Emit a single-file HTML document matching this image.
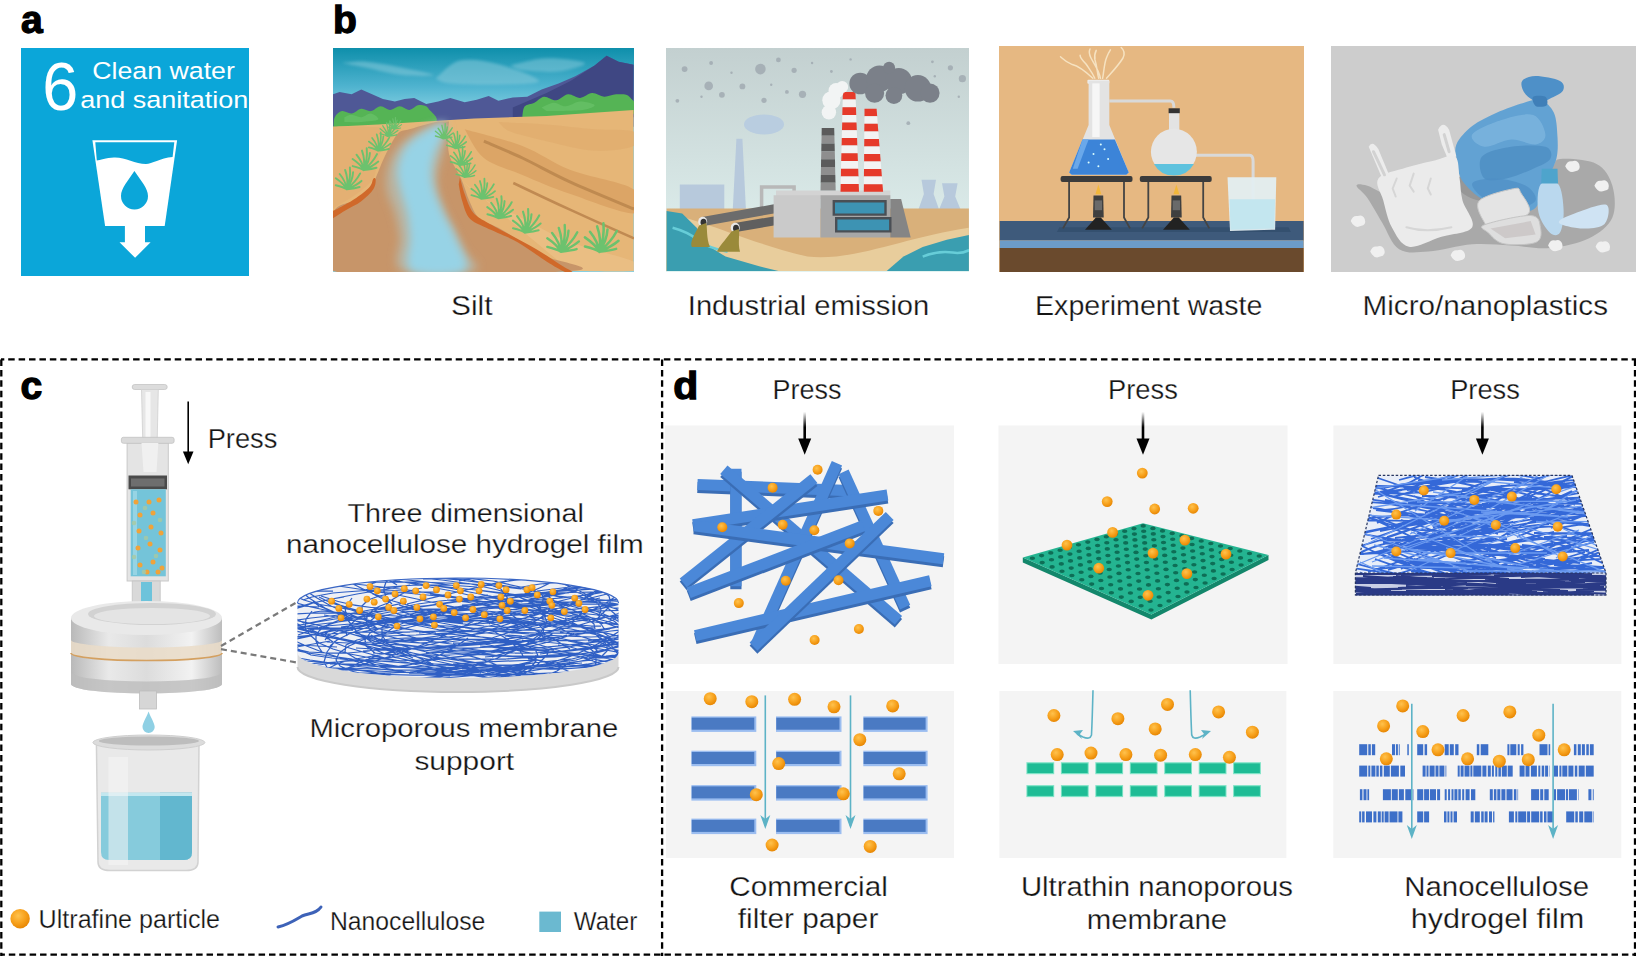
<!DOCTYPE html>
<html><head><meta charset="utf-8">
<style>
html,body{margin:0;padding:0;background:#fff;width:1636px;height:956px;overflow:hidden}
svg{display:block}
text{font-family:"Liberation Sans",sans-serif;fill:#141414}
.lb{font-weight:bold;font-size:39px;fill:#000;stroke:#000;stroke-width:1.3}
.t{font-size:27px}
</style></head><body>
<svg width="1636" height="956" viewBox="0 0 1636 956">
<defs>
<radialGradient id="dot" cx="0.4" cy="0.35" r="0.7">
<stop offset="0" stop-color="#ffc24d"/><stop offset="0.55" stop-color="#f7a11c"/><stop offset="1" stop-color="#e58300"/>
</radialGradient>
<linearGradient id="arr" x1="0" y1="0" x2="0" y2="1">
<stop offset="0" stop-color="#000" stop-opacity="0"/><stop offset="0.55" stop-color="#000"/><stop offset="1" stop-color="#000"/>
</linearGradient>
<marker id="tealhead" viewBox="0 0 10 10" refX="5" refY="5" markerWidth="7" markerHeight="7" orient="auto-start-reverse" markerUnits="userSpaceOnUse">
<path d="M0 0 L10 5 L0 10 L3 5 Z" fill="#5db3c6"/>
</marker>

<clipPath id="diskclip"><path d="M297.5 603 A160.5 25 0 0 1 618.5 603 V653 A160.5 25 0 0 1 297.5 653 Z"/></clipPath>
<clipPath id="slabclip"><path d="M1378.5 475.4 L1572 475.4 L1606 573 L1606 595 L1355.4 595 L1355.4 573 Z"/></clipPath>
<clipPath id="topslab"><path d="M1378.5 475.4 L1572 475.4 L1606 573 L1355.4 573 Z"/></clipPath>
<clipPath id="frontslab"><rect x="1355.4" y="573" width="250.7" height="22.5"/></clipPath>
<linearGradient id="holder" x1="0" y1="0" x2="1" y2="0">
<stop offset="0" stop-color="#b9b9b9"/><stop offset="0.25" stop-color="#e9e9e9"/><stop offset="0.5" stop-color="#dcdcdc"/><stop offset="0.8" stop-color="#f2f2f2"/><stop offset="1" stop-color="#bdbdbd"/>
</linearGradient>
<linearGradient id="skysilt" gradientUnits="userSpaceOnUse" x1="0" y1="48" x2="0" y2="112">
<stop offset="0" stop-color="#0e8fab"/><stop offset="0.6" stop-color="#4fb3cf"/><stop offset="1" stop-color="#86d0e2"/>
</linearGradient>
<linearGradient id="skyind" x1="0" y1="0" x2="0" y2="1">
<stop offset="0" stop-color="#c3d0d0"/><stop offset="1" stop-color="#e2f3f1"/>
</linearGradient>
</defs>

<text class="lb" x="21" y="33.4">a</text>
<text class="lb" x="333" y="32.6">b</text>
<text class="lb" x="20.6" y="398.5">c</text>
<text class="lb" x="673.2" y="398.6" textLength="25" lengthAdjust="spacingAndGlyphs">d</text>
<g id="pa">
<rect x="21" y="48" width="228" height="228" fill="#0ba6d9"/>
<text x="42.3" y="110" style="font-size:69px;fill:#fff;stroke:#0ba6d9;stroke-width:1.6;paint-order:stroke" textLength="36" lengthAdjust="spacingAndGlyphs">6</text>
<text x="92.3" y="78.5" style="font-size:24.5px;fill:#fff" textLength="142.5" lengthAdjust="spacingAndGlyphs">Clean water</text>
<text x="80.2" y="108.3" style="font-size:24.5px;fill:#fff" textLength="168" lengthAdjust="spacingAndGlyphs">and sanitation</text>
<path d="M92.4 140.2 H177.1 L164.7 226 H105.1 Z" fill="#fff"/>
<path d="M95.3 142.2 H174.3 L172.6 157 C160 158 152 164 146 164 C135 164 125 157 114 157.5 C106 158 100 160 96.8 160.5 Z" fill="#0ba6d9"/>
<path d="M134.4 171 C128 181 121 188 121 196 A13.5 13.5 0 0 0 148 196 C148 188 141 181 134.4 171 Z" fill="#0ba6d9"/>
<path d="M124.9 225 H145 V242.3 H150.6 L135.1 257.8 L119.5 242.3 H124.9 Z" fill="#fff"/>
</g>
<g id="silt"><svg x="333" y="48" width="301" height="224" viewBox="333 48 301 224" overflow="hidden">
<defs><filter id="sblur" x="-20%" y="-20%" width="140%" height="140%"><feGaussianBlur stdDeviation="4.5"/></filter>
<filter id="sblur2" x="-20%" y="-20%" width="140%" height="140%"><feGaussianBlur stdDeviation="1.5"/></filter></defs>
<rect x="333" y="48" width="301" height="224" fill="url(#skysilt)"/>
<path d="M342.0 63.0 C346.0 62.8 356.1 61.0 366.1 61.8 C376.1 62.6 390.9 65.6 402.2 67.8 C413.4 70.1 433.4 73.9 433.4 75.1 C433.4 76.3 413.4 76.3 402.2 75.1 C390.9 73.9 376.1 69.9 366.1 67.8 C356.1 65.8 346.0 63.8 342.0 63.0 Z" fill="#86c9da" opacity="0.55" filter="url(#sblur2)"/>
<path d="M435.8 78.7 C439.8 75.7 449.4 63.0 459.9 60.6 C470.3 58.2 485.1 60.8 498.4 64.2 C511.6 67.6 539.2 77.7 539.2 81.1 C539.2 84.5 513.2 84.3 498.4 84.7 C483.5 85.1 460.7 84.5 450.3 83.5 C439.8 82.5 438.2 79.5 435.8 78.7 Z" fill="#86c9da" opacity="0.55" filter="url(#sblur2)"/>
<path d="M510.4 65.4 C516.4 64.2 534.0 58.6 546.5 58.2 C558.9 57.8 582.9 60.8 584.9 63.0 C586.9 65.2 568.9 70.3 558.5 71.5 C548.1 72.7 530.4 71.3 522.4 70.3 C514.4 69.3 512.4 66.2 510.4 65.4 Z" fill="#86c9da" opacity="0.5" filter="url(#sblur2)"/>
<polygon points="332.9,94.3 339.6,91.9 351.6,94.3 361.3,89.5 372.1,94.3 382.9,99.1 394.9,101.5 404.6,99.1 414.2,97.9 426.2,103.9 438.2,101.5 450.3,97.9 464.7,102.2 476.7,99.8 488.7,96.0 498.4,100.8 512.8,97.4 527.2,96.7 541.6,89.5 558.5,83.5 575.3,76.3 594.6,65.4 606.6,55.8 618.6,61.8 633.5,64.7 633.5,126.8 332.9,126.8" fill="#4f5896"/>
<polygon points="512.8,107.5 546.5,93.1 570.5,81.1 594.6,65.4 606.6,55.8 618.6,61.8 633.5,64.7 633.5,117.2 512.8,117.2" fill="#3f4783"/>
<path d="M333.6 126.8 C333.8 125.2 333.4 119.8 334.8 117.2 C336.2 114.5 339.2 111.7 342.0 111.1 C344.8 110.5 348.4 113.9 351.6 113.5 C354.9 113.1 358.1 109.1 361.3 108.7 C364.5 108.3 367.7 111.5 370.9 111.1 C374.1 110.7 377.3 106.5 380.5 106.3 C383.7 106.1 386.9 109.9 390.1 109.9 C393.3 109.9 396.5 106.3 399.7 106.3 C403.0 106.3 406.2 110.1 409.4 109.9 C412.6 109.7 415.8 105.3 419.0 105.1 C422.2 104.9 426.8 105.5 428.6 108.7 C430.4 111.9 445.6 121.2 429.8 124.4 C414.0 127.6 349.6 127.4 333.6 128.0 Z" fill="#55b455"/>
<path d="M522.4 115.9 C522.8 114.3 522.8 108.5 524.8 106.3 C526.8 104.1 531.2 104.3 534.4 102.7 C537.6 101.1 540.4 97.1 544.0 96.7 C547.7 96.3 552.1 100.7 556.1 100.3 C560.1 99.9 564.1 94.7 568.1 94.3 C572.1 93.9 576.1 98.1 580.1 97.9 C584.1 97.7 588.1 93.3 592.1 93.1 C596.2 92.9 600.2 96.5 604.2 96.7 C608.2 96.9 612.0 94.3 616.2 94.3 C620.4 94.3 627.0 93.3 629.4 96.7 C631.8 100.1 648.5 111.3 630.6 114.7 C612.8 118.2 540.4 116.7 522.4 117.2 Z" fill="#55b455"/>
<path d="M344.4 117.2 C345.6 116.7 348.8 114.7 351.6 114.7 C354.5 114.7 358.1 117.4 361.3 117.2 C364.5 116.9 368.1 113.1 370.9 113.5 C373.7 113.9 379.7 118.2 378.1 119.6 C376.5 121.0 366.9 121.6 361.3 122.0 C355.7 122.4 347.2 122.0 344.4 122.0 Z M541.6 107.5 C543.6 106.7 549.7 102.9 553.7 102.7 C557.7 102.5 561.3 106.5 565.7 106.3 C570.1 106.1 575.3 101.7 580.1 101.5 C584.9 101.3 594.1 103.7 594.6 105.1 C595.0 106.5 590.5 108.9 582.5 109.9 C574.5 110.9 552.5 110.9 546.5 111.1 Z" fill="#66c066" opacity="0.8"/>
<polygon points="332.9,126.8 378.1,124.4 438.2,120.8 474.3,118.4 546.5,115.9 633.5,109.9 633.5,271.1 332.9,271.1" fill="#e6b677"/>
<path d="M464.7 129.2 C474.3 132.0 504.8 139.2 522.4 146.0 C540.0 152.8 552.0 162.8 570.5 170.1 C589.0 177.3 623.0 182.1 633.5 189.3 C644.0 196.5 644.0 212.5 633.5 213.4 C623.0 214.2 589.0 200.5 570.5 194.1 C552.0 187.7 536.8 180.9 522.4 174.9 C508.0 168.9 493.5 165.7 483.9 158.0 C474.3 150.4 467.9 134.0 464.7 129.2 Z" fill="#dca566"/>
<path d="M498.4 122.0 C506.4 122.4 530.4 123.2 546.5 124.4 C562.5 125.6 580.0 128.0 594.6 129.2 C609.1 130.4 627.0 128.8 633.5 131.6 C640.0 134.4 640.0 142.8 633.5 146.0 C627.0 149.2 609.1 151.6 594.6 150.8 C580.0 150.0 560.5 144.4 546.5 141.2 C532.4 138.0 518.4 134.8 510.4 131.6 C502.4 128.4 500.4 123.6 498.4 122.0 Z" fill="#dfac6d" opacity="0.7"/>
<path d="M483.9 141.2 C490.3 144.0 508.0 151.2 522.4 158.0 C536.8 164.8 551.9 173.6 570.5 182.1 C589.1 190.6 623.4 204.5 634.0 209.0" stroke="#bf8a50" stroke-width="3" fill="none"/>
<path d="M513.3 183.0 C523.1 187.7 552.1 201.5 572.2 210.7 C592.3 219.9 623.7 233.8 634.0 238.4" stroke="#c08a52" stroke-width="2.5" fill="none"/>
<path d="M461.1 179.7 C464.9 182.9 473.7 192.5 483.9 198.9 C494.1 205.3 508.0 210.9 522.4 218.2 C536.8 225.4 552.0 235.0 570.5 242.2 C589.0 249.4 623.0 256.6 633.5 261.5 C644.0 266.3 644.0 269.5 633.5 271.1 C623.0 272.7 581.0 271.1 570.5 271.1 Z" fill="#ecc38c" opacity="0.6"/>
<path d="M438.2 121.5 C436.2 122.0 431.0 123.1 426.2 124.4 C421.4 125.6 414.0 127.8 409.4 129.2 C404.8 130.6 401.7 130.0 398.5 132.8 C395.3 135.6 392.7 141.4 390.1 146.0 C387.5 150.6 385.1 155.6 382.9 160.4 C380.7 165.3 378.5 171.3 376.9 174.9 C375.3 178.5 376.3 178.1 373.3 182.1 C370.3 186.1 365.6 193.7 358.9 198.9 C352.1 204.1 337.2 201.3 332.9 213.4 C328.6 225.4 293.3 261.5 332.9 271.1 C372.5 280.7 534.9 273.5 570.5 271.1 C606.1 268.7 554.5 261.5 546.5 256.6 C538.4 251.8 530.4 247.0 522.4 242.2 C514.4 237.4 505.6 231.8 498.4 227.8 C491.1 223.8 483.9 222.6 479.1 218.2 C474.3 213.8 472.5 207.9 469.5 201.3 C466.5 194.7 464.3 185.7 461.1 178.5 C457.9 171.3 452.5 164.2 450.3 158.0 C448.0 151.8 448.0 147.3 447.8 141.2 C447.6 135.1 448.8 124.8 449.0 121.5 Z" fill="#c79569"/>
<path d="M439.4 124.4 C436.8 125.2 429.6 126.4 423.8 129.2 C418.0 132.0 409.8 136.8 404.6 141.2 C399.3 145.6 395.5 150.0 392.5 155.6 C389.5 161.2 387.3 168.5 386.5 174.9 C385.7 181.3 386.3 187.7 387.7 194.1 C389.1 200.5 392.9 206.1 394.9 213.4 C396.9 220.6 398.5 227.8 399.7 237.4 C400.9 247.0 389.7 265.5 402.2 271.1 C414.6 276.7 463.9 274.3 474.3 271.1 C484.7 267.9 467.9 258.2 464.7 251.8 C461.5 245.4 458.3 239.0 455.1 232.6 C451.9 226.2 448.2 219.8 445.4 213.4 C442.6 206.9 439.6 200.5 438.2 194.1 C436.8 187.7 436.4 181.3 437.0 174.9 C437.6 168.5 440.4 161.6 441.8 155.6 C443.2 149.6 444.6 144.0 445.4 138.8 C446.2 133.6 446.4 126.8 446.6 124.4 Z" fill="#b9b3a0" filter="url(#sblur)"/>
<path d="M441.1 122.4 C439.4 123.4 435.5 125.2 431.0 128.0 C426.5 130.7 418.8 135.0 414.2 138.8 C409.6 142.6 406.2 145.6 403.4 150.8 C400.5 156.0 397.9 163.6 397.3 170.1 C396.8 176.5 398.6 182.1 400.2 189.3 C401.8 196.5 405.4 205.3 407.0 213.4 C408.6 221.4 409.1 227.8 409.8 237.4 C410.6 247.0 402.2 265.5 411.3 271.1 C420.4 276.7 457.3 276.7 464.7 271.1 C472.1 265.5 459.1 247.0 455.5 237.4 C452.0 227.8 447.1 221.4 443.5 213.4 C439.9 205.3 435.9 196.5 433.9 189.3 C431.9 182.1 431.2 176.5 431.5 170.1 C431.8 163.6 434.0 156.4 435.8 150.8 C437.7 145.2 441.0 141.1 442.6 136.4 C444.1 131.7 444.6 124.8 445.0 122.4 Z" fill="#97d3e6" filter="url(#sblur)"/>
<path d="M332.9 210.9 C334.8 209.9 340.5 207.1 344.4 204.9 C348.4 202.7 352.2 200.7 356.5 197.7 C360.7 194.7 366.9 190.1 369.7 186.9 C372.5 183.7 372.3 179.7 373.3 178.5 C374.3 177.3 375.7 177.9 375.7 179.7 C375.7 181.5 375.7 185.7 373.3 189.3 C370.9 192.9 366.1 197.7 361.3 201.3 C356.5 204.9 349.2 208.1 344.4 210.9 C339.7 213.8 334.8 217.0 332.9 218.2 Z" fill="#d0692a"/>
<path d="M459.9 177.3 C460.7 180.1 462.7 188.5 464.7 194.1 C466.7 199.7 468.7 206.5 471.9 210.9 C475.1 215.4 477.9 216.8 483.9 220.6 C489.9 224.4 499.2 229.0 508.0 233.8 C516.8 238.6 528.0 244.2 536.8 249.4 C545.6 254.6 554.9 261.2 560.9 265.1 C566.9 268.9 572.1 271.1 572.9 272.3 C573.7 273.5 570.1 274.1 565.7 272.3 C561.3 270.5 554.5 266.5 546.5 261.5 C538.4 256.4 527.6 247.8 517.6 242.2 C507.6 236.6 494.3 231.8 486.3 227.8 C478.3 223.8 473.5 222.6 469.5 218.2 C465.5 213.8 464.1 206.9 462.3 201.3 C460.5 195.7 459.3 187.3 458.7 184.5 Z" fill="#d0692a"/>
<path d="M332.9 126.8 C338.4 126.8 354.9 126.4 366.1 126.8 C377.2 127.2 395.7 127.6 399.7 129.2 C403.8 130.8 393.7 131.6 390.1 136.4 C386.5 141.2 380.9 151.0 378.1 158.0 C375.3 165.0 376.9 172.5 373.3 178.5 C369.7 184.5 363.2 189.1 356.5 194.1 C349.7 199.1 336.8 206.1 332.9 208.5 Z" fill="#e4b073"/>
<path d="M346.8 189.3 Q352.5 180.7 353.1 172.2 M346.8 189.3 Q356.1 181.3 360.2 173.4 M346.8 189.3 Q356.8 185.1 361.5 180.9 M346.8 189.3 Q348.6 179.6 345.1 169.9 M346.8 189.3 Q345.9 181.6 339.7 174.0 M346.8 189.3 Q343.9 183.8 335.8 178.3 M346.8 189.3 Q355.8 188.2 359.6 187.0 M346.8 189.3 Q343.9 187.3 335.8 185.3 M346.8 189.3 Q351.0 178.4 349.9 167.4" stroke="#6cc26e" stroke-width="1.95" fill="none" stroke-linecap="round"/>
<path d="M363.7 170.1 Q369.4 161.5 369.9 153.0 M363.7 170.1 Q373.0 162.1 377.0 154.1 M363.7 170.1 Q373.6 165.8 378.3 161.6 M363.7 170.1 Q365.4 160.3 362.0 150.6 M363.7 170.1 Q362.7 162.4 356.5 154.7 M363.7 170.1 Q360.8 164.5 352.6 159.0 M363.7 170.1 Q372.7 168.9 376.5 167.8 M363.7 170.1 Q360.8 168.1 352.7 166.1 M363.7 170.1 Q367.8 159.1 366.7 148.2" stroke="#6cc26e" stroke-width="1.95" fill="none" stroke-linecap="round"/>
<path d="M378.1 150.8 Q382.9 143.6 383.4 136.3 M378.1 150.8 Q386.0 144.1 389.4 137.3 M378.1 150.8 Q386.5 147.2 390.5 143.7 M378.1 150.8 Q379.6 142.6 376.7 134.4 M378.1 150.8 Q377.3 144.3 372.1 137.9 M378.1 150.8 Q375.6 146.2 368.8 141.5 M378.1 150.8 Q385.7 149.9 388.9 148.9 M378.1 150.8 Q375.6 149.1 368.8 147.4 M378.1 150.8 Q381.6 141.6 380.7 132.3" stroke="#6cc26e" stroke-width="1.65" fill="none" stroke-linecap="round"/>
<path d="M387.7 136.4 Q391.7 130.5 392.0 124.5 M387.7 136.4 Q394.1 130.9 397.0 125.4 M387.7 136.4 Q394.6 133.5 397.9 130.5 M387.7 136.4 Q388.9 129.7 386.5 122.9 M387.7 136.4 Q387.0 131.1 382.8 125.8 M387.7 136.4 Q385.7 132.6 380.1 128.8 M387.7 136.4 Q394.0 135.6 396.6 134.8 M387.7 136.4 Q385.7 135.0 380.1 133.6 M387.7 136.4 Q390.6 128.8 389.8 121.2" stroke="#6cc26e" stroke-width="1.35" fill="none" stroke-linecap="round"/>
<path d="M393.7 129.2 Q396.8 124.6 397.1 120.0 M393.7 129.2 Q398.7 124.9 400.9 120.6 M393.7 129.2 Q399.1 126.9 401.6 124.6 M393.7 129.2 Q394.7 123.9 392.8 118.7 M393.7 129.2 Q393.2 125.1 389.9 120.9 M393.7 129.2 Q392.2 126.2 387.8 123.2 M393.7 129.2 Q398.6 128.6 400.6 128.0 M393.7 129.2 Q392.2 128.1 387.8 127.0 M393.7 129.2 Q396.0 123.3 395.4 117.4" stroke="#6cc26e" stroke-width="1.05" fill="none" stroke-linecap="round"/>
<path d="M443.0 138.8 Q447.0 132.9 447.3 127.0 M443.0 138.8 Q449.5 133.3 452.3 127.8 M443.0 138.8 Q449.9 135.9 453.2 132.9 M443.0 138.8 Q444.2 132.1 441.9 125.3 M443.0 138.8 Q442.4 133.5 438.1 128.2 M443.0 138.8 Q441.0 135.0 435.4 131.2 M443.0 138.8 Q449.3 138.0 451.9 137.2 M443.0 138.8 Q441.0 137.4 435.4 136.0 M443.0 138.8 Q445.9 131.2 445.2 123.6" stroke="#6cc26e" stroke-width="1.35" fill="none" stroke-linecap="round"/>
<path d="M455.1 148.4 Q459.5 141.8 459.8 135.3 M455.1 148.4 Q462.2 142.3 465.3 136.2 M455.1 148.4 Q462.7 145.2 466.3 141.9 M455.1 148.4 Q456.4 140.9 453.8 133.5 M455.1 148.4 Q454.3 142.5 449.6 136.6 M455.1 148.4 Q452.8 144.2 446.6 139.9 M455.1 148.4 Q462.0 147.5 464.9 146.7 M455.1 148.4 Q452.8 146.9 446.6 145.3 M455.1 148.4 Q458.2 140.0 457.4 131.6" stroke="#6cc26e" stroke-width="1.50" fill="none" stroke-linecap="round"/>
<path d="M459.9 165.3 Q464.7 158.0 465.1 150.8 M459.9 165.3 Q467.7 158.5 471.2 151.8 M459.9 165.3 Q468.3 161.7 472.3 158.1 M459.9 165.3 Q461.4 157.0 458.4 148.8 M459.9 165.3 Q459.0 158.8 453.8 152.3 M459.9 165.3 Q457.4 160.6 450.5 155.9 M459.9 165.3 Q467.5 164.3 470.7 163.3 M459.9 165.3 Q457.4 163.6 450.6 161.9 M459.9 165.3 Q463.4 156.0 462.5 146.7" stroke="#6cc26e" stroke-width="1.65" fill="none" stroke-linecap="round"/>
<path d="M464.7 177.3 Q469.1 170.7 469.5 164.1 M464.7 177.3 Q471.8 171.1 475.0 165.0 M464.7 177.3 Q472.3 174.0 475.9 170.8 M464.7 177.3 Q466.0 169.8 463.4 162.3 M464.7 177.3 Q463.9 171.4 459.2 165.5 M464.7 177.3 Q462.4 173.0 456.2 168.8 M464.7 177.3 Q471.6 176.4 474.5 175.5 M464.7 177.3 Q462.5 175.7 456.2 174.2 M464.7 177.3 Q467.9 168.9 467.0 160.4" stroke="#6cc26e" stroke-width="1.50" fill="none" stroke-linecap="round"/>
<path d="M481.5 198.9 Q486.8 191.0 487.3 183.1 M481.5 198.9 Q490.1 191.6 493.9 184.2 M481.5 198.9 Q490.7 195.0 495.0 191.1 M481.5 198.9 Q483.1 190.0 479.9 181.0 M481.5 198.9 Q480.6 191.9 474.9 184.8 M481.5 198.9 Q478.8 193.8 471.3 188.7 M481.5 198.9 Q489.8 197.9 493.3 196.8 M481.5 198.9 Q478.8 197.1 471.4 195.2 M481.5 198.9 Q485.3 188.8 484.4 178.7" stroke="#6cc26e" stroke-width="1.80" fill="none" stroke-linecap="round"/>
<path d="M498.4 218.2 Q504.1 209.6 504.6 201.1 M498.4 218.2 Q507.6 210.2 511.7 202.2 M498.4 218.2 Q508.3 213.9 513.0 209.7 M498.4 218.2 Q500.1 208.4 496.7 198.7 M498.4 218.2 Q497.4 210.5 491.2 202.8 M498.4 218.2 Q495.4 212.6 487.3 207.1 M498.4 218.2 Q507.4 217.0 511.2 215.9 M498.4 218.2 Q495.5 216.2 487.4 214.2 M498.4 218.2 Q502.5 207.2 501.4 196.3" stroke="#6cc26e" stroke-width="1.95" fill="none" stroke-linecap="round"/>
<path d="M524.8 232.6 Q531.0 223.4 531.5 214.2 M524.8 232.6 Q534.8 224.0 539.2 215.4 M524.8 232.6 Q535.5 228.0 540.6 223.5 M524.8 232.6 Q526.7 222.1 523.0 211.7 M524.8 232.6 Q523.8 224.3 517.1 216.1 M524.8 232.6 Q521.7 226.7 512.9 220.7 M524.8 232.6 Q534.5 231.4 538.6 230.2 M524.8 232.6 Q521.7 230.4 513.0 228.3 M524.8 232.6 Q529.3 220.8 528.1 209.0" stroke="#6cc26e" stroke-width="2.10" fill="none" stroke-linecap="round"/>
<path d="M560.9 251.8 Q567.9 241.3 568.5 230.8 M560.9 251.8 Q572.3 242.0 577.3 232.2 M560.9 251.8 Q573.1 246.6 578.9 241.4 M560.9 251.8 Q563.0 239.9 558.8 227.9 M560.9 251.8 Q559.7 242.4 552.1 233.0 M560.9 251.8 Q557.3 245.0 547.3 238.3 M560.9 251.8 Q572.0 250.4 576.6 249.1 M560.9 251.8 Q557.3 249.4 547.3 246.9 M560.9 251.8 Q566.0 238.4 564.7 224.9" stroke="#6cc26e" stroke-width="2.40" fill="none" stroke-linecap="round"/>
<path d="M599.4 251.8 Q606.8 240.6 607.5 229.5 M599.4 251.8 Q611.5 241.4 616.8 231.0 M599.4 251.8 Q612.3 246.3 618.5 240.8 M599.4 251.8 Q601.6 239.1 597.1 226.4 M599.4 251.8 Q598.1 241.8 590.0 231.8 M599.4 251.8 Q595.5 244.6 584.9 237.4 M599.4 251.8 Q611.1 250.4 616.1 248.9 M599.4 251.8 Q595.6 249.2 585.0 246.6 M599.4 251.8 Q604.8 237.5 603.4 223.2" stroke="#6cc26e" stroke-width="2.55" fill="none" stroke-linecap="round"/>
</svg></g>
<g id="ind"><svg x="666" y="48" width="303" height="224" viewBox="666 48 303 224" overflow="hidden">
<rect x="666" y="48" width="303" height="224" fill="url(#skyind)"/>
<circle cx="684.6" cy="69.1" r="2.9" fill="#99a1aa" opacity="0.7"/>
<circle cx="711.1" cy="63.0" r="1.9" fill="#99a1aa" opacity="0.7"/>
<circle cx="760.4" cy="69.1" r="5.3" fill="#99a1aa" opacity="0.7"/>
<circle cx="778.4" cy="59.9" r="2.4" fill="#99a1aa" opacity="0.7"/>
<circle cx="794.1" cy="70.3" r="2.6" fill="#99a1aa" opacity="0.7"/>
<circle cx="708.7" cy="85.9" r="4.3" fill="#99a1aa" opacity="0.7"/>
<circle cx="721.9" cy="94.8" r="2.9" fill="#99a1aa" opacity="0.7"/>
<circle cx="742.4" cy="86.4" r="2.9" fill="#99a1aa" opacity="0.7"/>
<circle cx="764.0" cy="100.3" r="2.6" fill="#99a1aa" opacity="0.7"/>
<circle cx="802.5" cy="94.3" r="3.6" fill="#99a1aa" opacity="0.7"/>
<circle cx="786.9" cy="91.9" r="1.9" fill="#99a1aa" opacity="0.7"/>
<circle cx="677.4" cy="100.8" r="1.9" fill="#99a1aa" opacity="0.7"/>
<circle cx="812.1" cy="63.0" r="1.2" fill="#99a1aa" opacity="0.7"/>
<circle cx="831.4" cy="71.5" r="1.4" fill="#99a1aa" opacity="0.7"/>
<circle cx="850.6" cy="59.4" r="1.2" fill="#99a1aa" opacity="0.7"/>
<circle cx="932.4" cy="61.8" r="1.4" fill="#99a1aa" opacity="0.7"/>
<circle cx="950.4" cy="67.8" r="2.6" fill="#99a1aa" opacity="0.7"/>
<circle cx="962.4" cy="78.7" r="3.6" fill="#99a1aa" opacity="0.7"/>
<circle cx="908.3" cy="123.2" r="1.9" fill="#99a1aa" opacity="0.7"/>
<circle cx="934.8" cy="76.3" r="1.2" fill="#99a1aa" opacity="0.7"/>
<circle cx="958.8" cy="96.7" r="1.2" fill="#99a1aa" opacity="0.7"/>
<circle cx="701.5" cy="96.7" r="1.2" fill="#99a1aa" opacity="0.7"/>
<circle cx="731.5" cy="72.7" r="1.2" fill="#99a1aa" opacity="0.7"/>
<circle cx="771.2" cy="84.7" r="1.2" fill="#99a1aa" opacity="0.7"/>
<polygon points="679.8,184.5 724.3,184.5 724.3,210.9 679.8,210.9" fill="#b7c9dc"/>
<polygon points="736.4,138.8 742.4,138.8 746.0,210.9 732.7,210.9" fill="#b7c9dc"/>
<polygon points="921.5,179.7 936.0,179.7 933.6,194.1 939.6,210.9 917.9,210.9 923.9,194.1" fill="#b7c9dc"/>
<polygon points="942.0,183.3 957.6,183.3 955.2,196.5 961.2,210.9 938.4,210.9 944.4,196.5" fill="#b7c9dc"/>
<ellipse cx="764.0" cy="124.4" rx="20" ry="10" fill="#b9cde0"/>
<polygon points="666.6,208.5 968.9,208.5 968.9,271.1 666.6,271.1" fill="#d9b07a"/>
<path d="M666.6 213.4 C699.1 218.2 747.2 242.2 807.3 256.6 C855.4 261.5 903.5 237.4 968.9 227.8 V271 H666Z" fill="#e8cd9c"/>
<polygon points="666.6,210.9 682.2,213.4 696.7,227.8 706.3,244.6 725.5,256.6 759.2,266.3 778.4,271.1 666.6,271.1" fill="#3a9eb0"/>
<polygon points="886.7,271.1 903.5,256.6 922.7,247.0 946.8,239.8 968.9,235.0 968.9,271.1" fill="#3a9eb0"/>
<path d="M672.6 227.8 q15 4 25 12 q10 8 30 12 M922.7 256.6 q15 -6 30 -4 q12 2 22 -6" stroke="#67cdd8" stroke-width="2.5" fill="none"/>
<path d="M761.6 213.4 V186.9 H794.1 V198.9" stroke="#b8b8b8" stroke-width="3.5" fill="none"/>
<path d="M701.5 221.8 L776.0 208.5" stroke="#6c6c6c" stroke-width="9"/>
<path d="M733.9 227.8 L776.0 220.6" stroke="#5f5f5f" stroke-width="9"/>
<ellipse cx="702.7" cy="221.8" rx="4.5" ry="5" fill="#e8e8e8"/><ellipse cx="703.5" cy="222.3" rx="3" ry="3.6" fill="#333"/>
<ellipse cx="735.2" cy="227.8" rx="4.5" ry="5" fill="#e8e8e8"/><ellipse cx="736.0" cy="228.3" rx="3" ry="3.6" fill="#333"/>
<path d="M699.1 225.4 C694.3 235.0 689.5 242.2 691.9 247.0 L709.9 247.0 C706.3 237.4 707.5 230.2 706.3 223.0Z" fill="#9a8a3a"/>
<path d="M731.5 231.4 C725.5 239.8 718.3 247.0 717.1 251.8 L740.0 251.8 C737.6 242.2 740.0 235.0 738.8 229.0Z" fill="#9a8a3a"/>
<polygon points="776.0,190.5 890.3,190.5 890.3,198.9 776.0,198.9" fill="#d3d3d3"/>
<polygon points="773.6,195.3 820.5,195.3 820.5,237.4 773.6,237.4" fill="#cacaca"/>
<polygon points="820.5,195.3 890.3,195.3 890.3,237.4 820.5,237.4" fill="#a7a7a7"/>
<polygon points="890.3,198.9 901.1,198.9 910.7,237.4 890.3,237.4" fill="#858585"/>
<polygon points="832.6,200.1 886.7,200.1 886.7,215.8 832.6,215.8" fill="#4a4f55"/>
<polygon points="835.0,202.5 884.3,202.5 884.3,213.4 835.0,213.4" fill="#3d93b3"/>
<polygon points="835.0,217.0 891.5,217.0 891.5,232.6 835.0,232.6" fill="#4a4f55"/>
<polygon points="837.4,219.4 889.1,219.4 889.1,230.2 837.4,230.2" fill="#3d93b3"/>
<polygon points="821.7,128.0 834.2,128.0 834.4,135.8 821.6,135.8" fill="#5b5b5b"/><polygon points="821.6,135.8 834.4,135.8 834.6,143.6 821.4,143.6" fill="#8e8e8e"/><polygon points="821.4,143.6 834.6,143.6 834.8,151.4 821.3,151.4" fill="#5b5b5b"/><polygon points="821.3,151.4 834.8,151.4 835.0,159.2 821.1,159.2" fill="#8e8e8e"/><polygon points="821.1,159.2 835.0,159.2 835.1,167.1 821.0,167.1" fill="#5b5b5b"/><polygon points="821.0,167.1 835.1,167.1 835.3,174.9 820.8,174.9" fill="#8e8e8e"/><polygon points="820.8,174.9 835.3,174.9 835.5,182.7 820.7,182.7" fill="#5b5b5b"/><polygon points="820.7,182.7 835.5,182.7 835.7,190.5 820.5,190.5" fill="#8e8e8e"/>
<polygon points="842.9,91.9 855.4,91.9 855.7,99.6 842.7,99.6" fill="#e63a2a"/><polygon points="842.7,99.6 855.7,99.6 856.0,107.3 842.5,107.3" fill="#f3f3f3"/><polygon points="842.5,107.3 856.0,107.3 856.2,114.9 842.3,114.9" fill="#e63a2a"/><polygon points="842.3,114.9 856.2,114.9 856.5,122.6 842.2,122.6" fill="#f3f3f3"/><polygon points="842.2,122.6 856.5,122.6 856.8,130.3 842.0,130.3" fill="#e63a2a"/><polygon points="842.0,130.3 856.8,130.3 857.1,138.0 841.8,138.0" fill="#f3f3f3"/><polygon points="841.8,138.0 857.1,138.0 857.3,145.6 841.6,145.6" fill="#e63a2a"/><polygon points="841.6,145.6 857.3,145.6 857.6,153.3 841.4,153.3" fill="#f3f3f3"/><polygon points="841.4,153.3 857.6,153.3 857.9,161.0 841.2,161.0" fill="#e63a2a"/><polygon points="841.2,161.0 857.9,161.0 858.2,168.7 841.0,168.7" fill="#f3f3f3"/><polygon points="841.0,168.7 858.2,168.7 858.5,176.4 840.9,176.4" fill="#e63a2a"/><polygon points="840.9,176.4 858.5,176.4 858.7,184.0 840.7,184.0" fill="#f3f3f3"/><polygon points="840.7,184.0 858.7,184.0 859.0,191.7 840.5,191.7" fill="#e63a2a"/>
<polygon points="864.5,108.7 876.6,108.7 877.2,116.3 864.5,116.3" fill="#e63a2a"/><polygon points="864.5,116.3 877.2,116.3 877.7,123.8 864.4,123.8" fill="#f3f3f3"/><polygon points="864.4,123.8 877.7,123.8 878.3,131.4 864.3,131.4" fill="#e63a2a"/><polygon points="864.3,131.4 878.3,131.4 878.9,138.9 864.3,138.9" fill="#f3f3f3"/><polygon points="864.3,138.9 878.9,138.9 879.5,146.4 864.2,146.4" fill="#e63a2a"/><polygon points="864.2,146.4 879.5,146.4 880.1,154.0 864.1,154.0" fill="#f3f3f3"/><polygon points="864.1,154.0 880.1,154.0 880.7,161.5 864.1,161.5" fill="#e63a2a"/><polygon points="864.1,161.5 880.7,161.5 881.3,169.1 864.0,169.1" fill="#f3f3f3"/><polygon points="864.0,169.1 881.3,169.1 881.9,176.6 863.9,176.6" fill="#e63a2a"/><polygon points="863.9,176.6 881.9,176.6 882.5,184.2 863.9,184.2" fill="#f3f3f3"/><polygon points="863.9,184.2 882.5,184.2 883.1,191.7 863.8,191.7" fill="#e63a2a"/>
<circle cx="831.4" cy="100.3" r="9.1" fill="#f2f4f4"/>
<circle cx="836.2" cy="90.7" r="7.7" fill="#f2f4f4"/>
<circle cx="828.9" cy="112.3" r="7.2" fill="#f2f4f4"/>
<circle cx="842.2" cy="87.1" r="6.0" fill="#f2f4f4"/>
<circle cx="860.2" cy="83.5" r="10.8" fill="#7b8089"/>
<circle cx="879.5" cy="78.7" r="13.2" fill="#7b8089"/>
<circle cx="898.7" cy="81.1" r="13.2" fill="#7b8089"/>
<circle cx="917.9" cy="88.3" r="13.2" fill="#7b8089"/>
<circle cx="930.0" cy="93.1" r="9.6" fill="#7b8089"/>
<circle cx="874.6" cy="93.1" r="9.6" fill="#7b8089"/>
<circle cx="893.9" cy="95.5" r="8.4" fill="#7b8089"/>
<circle cx="889.1" cy="67.8" r="6.0" fill="#7b8089"/>
</svg></g>
<g id="exp"><svg x="999" y="46" width="305" height="226" viewBox="999 46 305 226" overflow="hidden">
<rect x="999" y="46" width="305" height="226" fill="#e6b882"/>
<polygon points="999.7,221.1 1303.6,221.1 1303.6,240.6 999.7,240.6" fill="#3e5a7b"/>
<polygon points="1059.4,227.2 1288.5,227.2 1290.9,232.1 1056.9,232.1" fill="#34506f"/>
<polygon points="999.7,240.6 1303.6,240.6 1303.6,247.9 999.7,247.9" fill="#6c9cc9"/>
<polygon points="999.7,247.9 1303.6,247.9 1303.6,272.3 999.7,272.3" fill="#6a4a2d"/>
<path d="M1092.8 78.3 C1086 72 1078 66 1072.3 64.6 C1066 62 1063 59 1060.5 56.8 M1094.8 78.3 C1092 72 1090 70 1086 64 C1082 60 1080 58 1080.1 55.3 M1098.7 78.3 C1097 72 1097 66 1095 60 C1094 56 1095 53 1096.2 50.4 M1102.6 78.3 C1104 72 1104 64 1106.5 57.7 C1108 54 1109 52 1110.4 49.9 M1106.5 78.3 C1112 72 1118 66 1123 58 C1125 54 1124 50 1121.2 47.5 M1100.5 78.3 C1099 70 1094 64 1091 58 C1089 54 1089 51 1090 49" stroke="#f7e7c8" stroke-width="1.5" fill="none" stroke-linecap="round" opacity="0.9"/>
<rect x="1087.4" y="79.8" width="21.9" height="4" rx="1" fill="#ececec"/>
<path d="M1109.3 101.0 H1170.3 Q1173.9 101.0 1173.9 107.8" stroke="#d9d9d9" stroke-width="3" fill="none"/>
<path d="M1195.9 155.3 H1249.5 Q1253.1 155.3 1253.1 161.4 V200.4" stroke="#d9d9d9" stroke-width="3" fill="none"/>
<polygon points="1088.6,81.0 1109.3,81.0 1109.3,124.9 1128.8,172.4 1126.4,174.8 1071.6,174.8 1069.1,172.4 1088.6,124.9" fill="#e3e3e3"/>
<polygon points="1092.3,83.4 1099.6,83.4 1099.6,137.1 1092.3,137.1" fill="#f6f6f6"/>
<polygon points="1082.5,139.5 1114.9,139.5 1128.8,172.4 1126.4,174.8 1071.6,174.8 1069.1,172.4" fill="#3c84d8"/>
<polygon points="1082.5,139.5 1088.6,139.5 1077.6,168.7 1072.8,168.7" fill="#6aa8ea"/>
<circle cx="1100.8" cy="144.4" r="1" fill="#dff"/>
<circle cx="1108.1" cy="159.0" r="1" fill="#dff"/>
<circle cx="1093.5" cy="154.1" r="1" fill="#dff"/>
<circle cx="1098.4" cy="166.3" r="1" fill="#dff"/>
<circle cx="1088.6" cy="162.6" r="1" fill="#dff"/>
<circle cx="1104.5" cy="149.2" r="1" fill="#dff"/>
<polygon points="1169.0,109.0 1179.3,109.0 1179.3,132.2 1169.0,132.2" fill="#e3e3e3"/>
<polygon points="1168.6,108.3 1179.8,108.3 1179.8,113.2 1168.6,113.2" fill="#333"/>
<circle cx="1173.9" cy="151.7" r="23" fill="#e6e6e6"/>
<path d="M1153.9 163.9 H1193.9 A23 23 0 0 1 1153.9 163.9Z" fill="#5ec2de"/>
<rect x="1060.6" y="176.0" width="71.9" height="6.1" rx="2" fill="#3b3b3b"/>
<path d="M1069.1 182.1 V217.5 L1063.0 228.4 M1124.0 182.1 V217.5 L1130.0 228.4" stroke="#444" stroke-width="1.8" fill="none"/>
<rect x="1139.8" y="176.0" width="71.9" height="6.1" rx="2" fill="#3b3b3b"/>
<path d="M1148.3 182.1 V217.5 L1142.2 228.4 M1203.2 182.1 V217.5 L1209.3 228.4" stroke="#444" stroke-width="1.8" fill="none"/>
<polygon points="1093.5,195.5 1103.2,195.5 1103.7,217.5 1093.0,217.5" fill="#3f3f3f"/>
<polygon points="1094.7,200.4 1102.0,200.4 1102.0,210.2 1094.7,210.2" fill="#6a6a6a"/>
<polygon points="1095.9,217.5 1100.8,217.5 1111.8,229.7 1085.0,229.7" fill="#222"/>
<polygon points="1098.4,184.6 1101.3,194.3 1095.4,194.3" fill="#f2b73a"/>
<polygon points="1171.5,195.5 1181.2,195.5 1181.7,217.5 1171.0,217.5" fill="#3f3f3f"/>
<polygon points="1172.7,200.4 1180.0,200.4 1180.0,210.2 1172.7,210.2" fill="#6a6a6a"/>
<polygon points="1173.9,217.5 1178.8,217.5 1189.8,229.7 1163.0,229.7" fill="#222"/>
<polygon points="1176.4,184.6 1179.3,194.3 1173.4,194.3" fill="#f2b73a"/>
<polygon points="1227.5,177.3 1276.3,177.3 1275.1,229.7 1230.0,230.9" fill="#e3eef1" opacity="0.95"/>
<polygon points="1229.5,199.2 1275.1,199.2 1274.3,228.4 1230.5,229.7" fill="#c3e6ef"/>
</svg></g>
<g id="pla"><svg x="1331" y="46" width="305" height="226" viewBox="1331 46 305 226" overflow="hidden">
<rect x="1331" y="46" width="305" height="226" fill="#cdcdcd"/>
<path d="M1356.5 185.8 C1356.5 187.8 1363.2 191.9 1367.4 198.0 C1371.7 204.1 1376.8 213.8 1382.1 222.4 C1387.3 230.9 1391.4 244.3 1399.1 249.2 C1406.8 254.0 1416.2 252.4 1428.4 251.6 C1440.6 250.8 1458.4 245.3 1472.2 244.3 C1486.0 243.3 1498.2 244.9 1511.2 245.5 C1524.2 246.1 1537.2 249.2 1550.2 247.9 C1563.2 246.7 1578.9 243.3 1589.2 238.2 C1599.6 233.1 1608.5 226.2 1612.4 217.5 C1616.2 208.7 1615.0 194.7 1612.4 185.8 C1609.7 176.9 1605.3 168.3 1596.5 163.9 C1587.8 159.4 1568.5 158.2 1560.0 159.0 C1551.4 159.8 1560.0 165.5 1545.4 168.7 C1530.7 172.0 1487.7 174.8 1472.2 178.5 C1456.8 182.1 1464.9 187.4 1452.7 190.7 C1440.6 193.9 1413.3 198.8 1399.1 198.0 C1384.9 197.2 1374.5 187.8 1367.4 185.8 C1360.3 183.8 1356.5 183.8 1356.5 185.8 Z" fill="#a9a9a9"/>
<path d="M1457.6 178.5 C1460.0 175.2 1470.6 172.0 1477.1 173.6 C1483.6 175.2 1495.8 183.8 1496.6 188.2 C1497.4 192.7 1487.7 199.6 1482.0 200.4 C1476.3 201.2 1466.5 196.8 1462.5 193.1 C1458.4 189.5 1455.2 181.7 1457.6 178.5 Z" fill="#979797"/>
<path d="M1456.4 144.4 C1458.9 138.5 1465.5 131.4 1472.2 126.1 C1478.9 120.8 1488.1 116.5 1496.6 112.7 C1505.1 108.8 1516.1 105.0 1523.4 102.9 C1530.7 100.8 1535.4 98.4 1540.5 100.0 C1545.6 101.6 1551.0 106.5 1553.9 112.7 C1556.7 118.9 1557.1 129.3 1557.5 137.1 C1557.9 144.8 1558.1 151.7 1556.3 159.0 C1554.5 166.3 1550.0 172.8 1546.6 180.9 C1543.1 189.0 1540.7 202.9 1535.6 207.7 C1530.5 212.6 1524.6 211.4 1516.1 210.2 C1507.6 209.0 1493.4 205.3 1484.4 200.4 C1475.5 195.5 1467.0 187.4 1462.5 180.9 C1457.9 174.4 1458.1 167.5 1457.1 161.4 C1456.1 155.3 1453.9 150.3 1456.4 144.4 Z" fill="#62a2d3"/>
<path d="M1472.2 134.6 C1475.1 130.1 1491.3 123.2 1501.5 120.0 C1511.6 116.7 1525.9 112.7 1533.2 115.1 C1540.5 117.6 1544.9 129.7 1545.4 134.6 C1545.8 139.5 1541.3 143.6 1535.6 144.4 C1529.9 145.2 1519.8 139.1 1511.2 139.5 C1502.7 139.9 1490.9 147.6 1484.4 146.8 C1477.9 146.0 1469.4 139.1 1472.2 134.6 Z" fill="#7db5de" opacity="0.8"/>
<path d="M1482.0 156.6 C1486.5 151.3 1500.7 148.4 1511.2 146.8 C1521.8 145.2 1538.9 144.8 1545.4 146.8 C1551.9 148.8 1552.3 155.3 1550.2 159.0 C1548.2 162.6 1540.5 165.5 1533.2 168.7 C1525.9 172.0 1514.5 176.9 1506.4 178.5 C1498.2 180.1 1488.5 182.1 1484.4 178.5 C1480.4 174.8 1477.5 161.8 1482.0 156.6 Z" fill="#4c8cc2" opacity="0.75"/>
<path d="M1472.2 183.4 C1473.9 179.7 1487.7 178.1 1496.6 178.5 C1505.5 178.9 1519.4 182.1 1525.9 185.8 C1532.4 189.5 1537.2 196.8 1535.6 200.4 C1534.0 204.1 1524.2 207.7 1516.1 207.7 C1508.0 207.7 1494.2 204.5 1486.9 200.4 C1479.5 196.4 1470.6 187.0 1472.2 183.4 Z" fill="#4f8fc5" opacity="0.7"/>
<path d="M1522.2 81.0 C1524.1 78.4 1529.3 76.1 1535.6 76.1 C1541.9 76.1 1555.4 78.6 1560.0 81.0 C1564.5 83.4 1564.5 87.8 1562.9 90.7 C1561.3 93.7 1554.0 96.6 1550.2 98.5 C1546.5 100.5 1543.4 102.2 1540.5 102.4 C1537.6 102.7 1535.4 101.8 1532.7 100.0 C1529.9 98.3 1525.7 95.1 1523.9 92.0 C1522.2 88.8 1520.2 83.6 1522.2 81.0 Z" fill="#4e90c8"/>
<path d="M1533.2 96.8 C1534.8 95.3 1543.1 95.4 1545.4 96.8 C1547.6 98.3 1548.2 103.9 1546.6 105.4 C1544.9 106.9 1537.8 107.3 1535.6 105.9 C1533.4 104.4 1531.5 98.3 1533.2 96.8 Z" fill="#3f7fb8"/>
<path d="M1368.7 146.8 Q1372.3 139.5 1378.4 149.2 L1390.6 178.5 L1383.3 180.9 Z" fill="#ececec"/>
<path d="M1438.1 129.7 Q1443.0 120.0 1449.1 129.7 L1456.4 156.6 L1447.9 159.0 L1441.8 144.4 Z" fill="#ececec"/>
<path d="M1378.4 178.5 C1382.3 173.0 1396.9 170.6 1406.4 167.5 C1416.0 164.5 1427.6 162.0 1435.7 160.2 C1443.8 158.4 1451.2 153.5 1455.2 156.6 C1459.2 159.6 1458.3 171.2 1459.6 178.5 C1460.8 185.8 1460.4 192.3 1462.5 200.4 C1464.6 208.5 1475.9 221.1 1472.2 227.2 C1468.6 233.3 1451.1 233.7 1440.6 237.0 C1430.0 240.2 1417.0 248.4 1408.9 246.7 C1400.7 245.1 1396.1 234.9 1391.8 227.2 C1387.5 219.5 1385.5 208.5 1383.3 200.4 C1381.0 192.3 1374.5 184.0 1378.4 178.5 Z" fill="#ebebeb"/>
<path d="M1396.7 178.5 l-4 10 l3 8 M1413.7 173.6 l-4 12 l4 6 M1430.8 178.5 l-3 10 l3 6 M1406.4 227.2 q20 6 45 0" stroke="#d6d6d6" stroke-width="2" fill="none" stroke-linecap="round"/>
<path d="M1373.5 151.7 L1384.5 174.8 M1444.2 134.6 L1449.1 151.7" stroke="#d2d2d2" stroke-width="3" fill="none" stroke-linecap="round"/>
<path d="M1479.1 200.9 C1483.9 195.3 1506.7 190.0 1513.7 188.7 C1520.7 187.4 1518.5 188.9 1521.0 193.1 C1523.4 197.3 1533.2 208.7 1528.3 213.8 C1523.4 218.9 1499.0 222.2 1491.7 223.6 C1484.4 225.0 1486.5 226.1 1484.4 222.4 C1482.3 218.6 1474.2 206.5 1479.1 200.9 Z" fill="#e4e4e4" stroke="#c8c8c8" stroke-width="1"/>
<path d="M1484.4 224.8 C1491.5 221.9 1521.4 215.0 1530.7 215.5 C1540.1 216.0 1539.6 223.2 1540.5 227.7 C1541.4 232.2 1542.2 239.7 1536.1 242.3 C1530.0 245.0 1511.9 245.4 1503.9 243.8 C1495.9 242.2 1491.3 235.8 1488.1 232.6 C1484.8 229.4 1477.3 227.6 1484.4 224.8 Z" fill="#dedede" stroke="#c4c4c4" stroke-width="1"/>
<polygon points="1490.5,228.4 1530.7,221.1 1535.6,234.5 1505.1,238.2" fill="#cdc9c9"/>
<path d="M1540.5 184.6 C1543.7 179.8 1554.2 179.6 1558.0 183.8 C1561.9 188.1 1563.3 202.0 1563.6 210.2 C1564.0 218.3 1562.3 228.9 1560.0 232.6 C1557.7 236.3 1553.3 235.9 1549.7 232.6 C1546.2 229.3 1540.1 220.6 1538.5 212.6 C1537.0 204.6 1537.2 189.4 1540.5 184.6 Z" fill="#bad8ee"/>
<polygon points="1541.7,168.7 1557.5,168.7 1558.0,183.4 1541.2,183.4" fill="#4ea4cc"/>
<path d="M1558.8 222.4 C1557.9 219.7 1569.1 215.5 1577.0 212.6 C1585.0 209.7 1601.7 202.9 1606.3 204.8 C1610.8 206.8 1608.4 220.4 1604.3 224.3 C1600.3 228.2 1589.5 228.8 1581.9 228.4 C1574.3 228.1 1559.6 225.0 1558.8 222.4 Z" fill="#cfe3f3"/>
<path d="M1350.7 221.1 q2 -6 7 -5 q5 -2 7 3 q2 6 -4 7 q-6 3 -10 -5Z" fill="#f0f0f0"/>
<path d="M1370.2 251.6 q2 -6 7 -5 q5 -2 7 3 q2 6 -4 7 q-6 3 -10 -5Z" fill="#f0f0f0"/>
<path d="M1450.6 255.3 q2 -6 7 -5 q5 -2 7 3 q2 6 -4 7 q-6 3 -10 -5Z" fill="#f0f0f0"/>
<path d="M1548.1 245.5 q2 -6 7 -5 q5 -2 7 3 q2 6 -4 7 q-6 3 -10 -5Z" fill="#f0f0f0"/>
<path d="M1595.6 246.7 q2 -6 7 -5 q5 -2 7 3 q2 6 -4 7 q-6 3 -10 -5Z" fill="#f0f0f0"/>
<path d="M1565.2 166.3 q2 -6 7 -5 q5 -2 7 3 q2 6 -4 7 q-6 3 -10 -5Z" fill="#f0f0f0"/>
<path d="M1594.4 185.8 q2 -6 7 -5 q5 -2 7 3 q2 6 -4 7 q-6 3 -10 -5Z" fill="#f0f0f0"/>
</svg></g>
<g fill="none" stroke="#000" stroke-width="2.3" stroke-dasharray="6.5 3.907">
<path d="M1 359.4 H1636" stroke-dashoffset="3.2"/>
<path d="M1 954.6 H1636" stroke-dashoffset="2.6"/>
<path d="M1.3 359.5 V956"/>
<path d="M662.1 359.5 V956"/>
<path d="M1635 359.5 V956"/>
</g>
<g id="pc">
<!-- syringe -->
<rect x="132.2" y="384.5" width="35" height="5" rx="2.5" fill="#dcdcdc" stroke="#c4c4c4" stroke-width="0.8"/>
<path d="M141.5 389.5 H158.3 L156.5 472 H143.5 Z" fill="#e6e6e6" stroke="#cfcfcf" stroke-width="0.8"/>
<rect x="145.5" y="392" width="5" height="75" fill="#f8f8f8"/>
<rect x="127.1" y="443" width="41.2" height="138" fill="#e4e4e4" stroke="#c9c9c9" stroke-width="1"/>
<rect x="121.4" y="437.3" width="52.7" height="6" rx="2" fill="#dadada" stroke="#c2c2c2" stroke-width="0.8"/>
<path d="M141.5 443 H158.3 L156.5 472 H143.5 Z" fill="#f0f0f0"/>
<rect x="128.5" y="475.5" width="38.5" height="13.8" fill="#4a4a4a"/>
<rect x="131" y="478.5" width="33.5" height="8" fill="#6e6e6e"/>
<rect x="130.7" y="489.3" width="35.1" height="87" fill="#74c4d9"/>
<rect x="133" y="491" width="4" height="84" fill="#a5dbe8" opacity="0.7"/>
<rect x="132.2" y="581" width="28" height="24" fill="#d9d9d9" stroke="#c4c4c4" stroke-width="0.8"/>
<rect x="141" y="582" width="11" height="23" fill="#6dc3db"/>

<circle cx="136" cy="502" r="2.5" fill="#f0a33a"/>
<circle cx="149" cy="502" r="2.5" fill="#f0a33a"/>
<circle cx="159" cy="500" r="2.5" fill="#f0a33a"/>
<circle cx="140" cy="515" r="2.5" fill="#f0a33a"/>
<circle cx="153" cy="513" r="2.5" fill="#f0a33a"/>
<circle cx="139" cy="531" r="2.5" fill="#f0a33a"/>
<circle cx="151" cy="527" r="2.5" fill="#f0a33a"/>
<circle cx="161" cy="533" r="2.5" fill="#f0a33a"/>
<circle cx="138" cy="548" r="2.5" fill="#f0a33a"/>
<circle cx="150" cy="544" r="2.5" fill="#f0a33a"/>
<circle cx="160" cy="550" r="2.5" fill="#f0a33a"/>
<circle cx="140" cy="565" r="2.5" fill="#f0a33a"/>
<circle cx="153" cy="562" r="2.5" fill="#f0a33a"/>
<circle cx="162" cy="568" r="2.5" fill="#f0a33a"/>
<circle cx="147" cy="572" r="2.5" fill="#f0a33a"/>
<circle cx="158" cy="572" r="2.5" fill="#f0a33a"/>
<circle cx="145" cy="508" r="2.3" fill="#a9c9a0" opacity="0.8"/>
<circle cx="160" cy="520" r="2.3" fill="#a9c9a0" opacity="0.8"/>
<circle cx="146" cy="538" r="2.3" fill="#a9c9a0" opacity="0.8"/>
<circle cx="156" cy="556" r="2.3" fill="#a9c9a0" opacity="0.8"/>
<circle cx="144" cy="572" r="2.3" fill="#a9c9a0" opacity="0.8"/>
<circle cx="134" cy="523" r="2.3" fill="#a9c9a0" opacity="0.8"/>
<circle cx="134" cy="557" r="2.3" fill="#a9c9a0" opacity="0.8"/>

<!-- arrow press -->
<path d="M188.2 401.4 V454" stroke="#000" stroke-width="1.6"/>
<path d="M182.9 451.6 L193.5 451.6 L188.2 464.2 Z" fill="#000"/>
<!-- filter holder -->
<path d="M71 618 V684 A75.5 9.5 0 0 0 222 684 V618 Z" fill="url(#holder)"/>
<path d="M71 640 V653 A75.5 7.5 0 0 0 222 653 V640 A75.5 7.5 0 0 1 71 640 Z" fill="#eadcc8" opacity="0.85"/>
<path d="M71 653 A75.5 7.5 0 0 0 222 653" stroke="#d4a060" stroke-width="1.7" fill="none"/>
<path d="M71 672 V684 A75.5 9.5 0 0 0 222 684 V672 A75.5 9.5 0 0 1 71 672 Z" fill="#bdbdbd" opacity="0.8"/>
<ellipse cx="146.5" cy="618" rx="75.5" ry="17" fill="#e9e9e9"/>
<ellipse cx="152" cy="614" rx="64" ry="11" fill="#d2d2d2"/>
<ellipse cx="152" cy="616" rx="58" ry="8" fill="#e4e4e4"/>
<rect x="139.5" y="691" width="17" height="18" fill="#d6d6d6" stroke="#bdbdbd" stroke-width="0.8"/>
<path d="M148.6 711.4 C146 718 142.5 723 142.5 727 A6.1 6.1 0 0 0 154.7 727 C154.7 723 151 718 148.6 711.4 Z" fill="#8fd0e4"/>
<!-- beaker -->
<path d="M96.4 743 L98 862 Q98 870.6 110 870.6 H186 Q198 870.6 198 862 L199 743 Z" fill="#e9e9e9" stroke="#d2d2d2" stroke-width="1.5"/>
<path d="M101 792.7 H192 V852 Q192 860 184 860 H109 Q101 860 101 852 Z" fill="#86cbdc"/>
<path d="M160 792.7 H192 V852 Q192 860 184 860 H160 Z" fill="#62b7cf"/>
<path d="M101 792.7 H192 V796 H101Z" fill="#c3e7ef"/>
<rect x="108.5" y="757" width="19.5" height="108" fill="#f6f6f6" opacity="0.55"/>
<ellipse cx="148.9" cy="742.5" rx="56" ry="7.5" fill="#dcdcdc" stroke="#cfcfcf" stroke-width="1"/>
<ellipse cx="148.9" cy="741" rx="50" ry="4.5" fill="#bdbdbd"/>
<!-- dashed zoom lines -->
<path d="M221 646 L299.7 600.6 M221 649.2 L307.3 664.3" stroke="#7a7a7a" stroke-width="2.2" stroke-dasharray="6 4" fill="none"/>

<path d="M297.5 617 V667 A160.5 25 0 0 0 618.5 667 V617 Z" fill="#d9d9d9"/>
<path d="M297.5 667 A160.5 25 0 0 0 618.5 667" stroke="#c9c9c9" stroke-width="2" fill="none"/>
<path d="M297.5 603 A160.5 25 0 0 1 618.5 603 V653 A160.5 25 0 0 1 297.5 653 Z" fill="#eef0f5"/>
<g clip-path="url(#diskclip)"><path d="M244 642L252 639L265 635L281 630L300 625L323 620L348 614L375 609L403 603 M595 628L579 627L560 626L538 624L515 622L490 619L464 615L438 612L413 608 M246 559L263 557L284 556L307 556L333 558L361 561L391 565L420 571L450 577 M504 675L490 675L475 674L458 673L440 671L422 669L403 667L384 664L366 661 M232 663L237 660L244 657L252 654L262 650L272 647L284 643L297 639L311 636 M283 642L298 638L317 634L338 630L362 626L388 623L415 620L441 618L468 617 M365 625L374 618L392 614L415 611L444 609L475 610L508 613L539 618L568 624 M437 634L449 634L460 635L471 636L482 637L492 638L501 639L510 641L518 643 M560 632L579 636L596 641L608 646L617 651L621 655L622 659L618 663L610 667 M627 632L634 639L636 646L634 652L626 658L615 664L599 668L579 672L556 674 M491 598L514 600L535 602L554 605L570 609L583 614L594 619L601 624L605 630 M601 626L591 626L580 625L568 625L555 624L542 623L528 622L514 621L500 620 M550 637L535 643L518 647L497 651L474 653L450 655L424 655L399 655L373 653 M301 626L286 621L276 617L271 613L271 610L276 608L285 607L300 606L319 607 M525 628L504 627L484 626L464 624L446 622L430 619L417 616L406 613L398 610 M283 579L306 576L337 574L375 574L417 576L459 580L500 585L535 591L563 598 M624 656L647 662L660 667L662 670L653 671L634 671L606 668L570 665L528 659 M389 632L399 630L410 627L422 624L434 622L447 619L460 616L474 613L487 611 M569 585L568 587L566 588L562 590L557 592L550 594L542 597L532 599L521 602 M585 618L560 621L533 625L505 628L476 631L446 633L416 635L387 636L358 636 M218 656L211 650L212 642L219 633L233 623L253 613L278 603L308 593L343 583 M474 666L465 666L455 666L445 665L434 664L424 662L413 661L403 659L392 657 M284 580L300 579L327 581L364 585L408 590L456 597L504 605L549 613L588 620 M504 603L531 606L556 610L578 615L598 619L613 623L625 627L631 631L633 634 M578 596L616 609L643 621L659 633L663 645L655 654L634 661L602 665L562 667 M661 601L658 604L654 606L649 608L643 610L636 612L627 614L618 617L608 619 M660 676L676 686L674 693L653 696L617 694L566 689L505 681L439 669L372 656 M475 635L450 632L425 627L400 622L377 617L357 612L340 606L327 601L319 597 M666 677L641 679L609 679L573 677L534 673L493 666L452 658L414 649L379 639 M535 635L558 638L579 642L599 646L617 650L632 653L644 657L653 660L659 663 M483 586L500 582L517 580L534 578L551 576L567 575L583 575L598 575L612 575 M522 648L572 653L610 659L634 665L643 669L635 673L610 675L572 676L522 675 M550 632L552 634L549 636L542 638L530 640L515 642L496 643L475 643L453 643 M571 659L542 662L512 665L482 667L453 669L425 670L398 670L372 669L349 668 M519 648L491 653L459 657L425 660L391 661L360 661L332 658L311 655L298 649 M665 626L683 630L693 634L697 638L692 643L681 647L662 650L638 654L607 656 M624 579L619 583L606 589L584 595L556 602L522 608L485 614L447 619L410 624 M273 619L281 616L294 614L313 613L337 613L365 614L396 616L429 619L463 623 M430 615L452 616L474 618L493 620L510 623L524 626L534 630L541 633L543 637 M325 640L329 635L338 631L352 627L370 624L392 622L417 621L444 621L473 622 M407 582L449 588L490 596L530 607L565 619L592 632L611 645L620 657L619 668 M593 660L573 662L552 665L530 667L507 669L483 671L458 672L434 673L409 673 M423 579L448 578L470 580L488 584L501 589L507 597L507 605L501 615L489 624 M595 653L596 658L596 663L594 667L590 671L585 675L578 678L570 681L561 683 M582 663L545 666L505 668L464 668L423 668L382 667L342 664L306 661L273 657 M582 612L576 619L566 625L551 631L533 636L511 641L487 644L461 646L434 647 M578 653L550 656L511 656L464 654L412 649L359 643L310 634L267 625L234 615 M537 591L554 589L570 587L585 586L599 584L612 583L623 583L632 583L639 583 M584 674L532 675L474 674L415 673L358 670L307 666L266 661L237 656L221 650 M392 604L389 601L386 598L385 594L384 591L384 588L385 585L386 582L388 580 M570 662L557 671L538 679L516 684L492 687L466 688L441 687L418 683L398 677 M610 629L575 635L536 640L494 646L450 651L406 656L363 660L322 663L285 665 M372 621L360 619L349 617L340 614L331 611L324 608L319 606L315 603L313 601 M550 608L548 612L544 615L539 619L532 623L523 627L513 631L501 635L489 639 M598 637L602 640L605 643L607 646L607 649L607 651L605 653L602 656L598 658 M223 582L231 579L249 578L276 579L311 582L352 588L398 595L445 605L493 615 M272 700L256 699L244 697L236 694L233 690L233 685L238 679L248 673L261 666 M522 636L505 635L487 633L468 631L449 628L429 626L410 623L390 620L371 617 M469 663L447 665L427 666L409 667L394 667L382 666L373 664L367 662L366 659 M216 556L228 553L243 551L261 550L283 551L307 552L333 554L361 557L390 561 M347 636L346 632L347 628L351 624L357 619L366 615L377 610L390 606L404 603 M353 630L347 630L342 630L337 630L333 630L330 629L328 629L327 628L326 627 M438 586L476 590L513 595L547 601L575 607L598 614L614 621L622 628L622 633 M587 664L559 668L529 669L497 667L465 664L436 659L409 652L387 644L371 635 M374 622L431 614L486 607L536 603L579 602L612 603L634 607L642 613L637 622 M572 614L608 624L639 635L663 645L680 654L688 663L689 670L681 676L665 681 M567 635L552 639L536 642L518 646L500 649L482 653L463 656L445 658L427 661 M411 622L442 614L474 606L508 599L541 593L572 588L602 585L628 583L651 582 M402 611L415 612L429 612L444 612L459 613L474 614L489 616L505 617L520 619 M458 645L429 641L400 634L372 627L347 618L325 608L309 598L299 589L296 580 M478 590L511 594L542 598L569 604L593 610L611 617L623 624L628 631L627 637 M370 651L348 653L327 653L309 652L295 649L284 645L278 639L277 633L280 625 M314 585L339 583L365 582L392 582L419 582L446 583L472 584L497 586L521 589 M481 673L451 669L423 663L396 654L373 643L357 632L347 619L345 608L352 598 M185 668L177 663L173 658L173 652L176 646L183 640L193 633L207 627L224 620 M327 639L340 633L365 626L401 618L444 609L492 601L541 593L589 587L631 583 M525 665L464 665L405 663L352 659L308 653L276 646L259 637L257 629L270 620 M347 628L330 628L314 628L299 628L286 627L273 626L262 624L252 623L243 621 M489 629L495 632L502 636L507 639L512 643L516 647L520 651L522 654L524 658 M374 664L355 658L345 652L346 645L357 640L378 635L406 632L441 631L478 631 M551 623L529 627L501 631L470 635L437 638L405 640L375 642L348 643L327 642 M554 650L535 647L515 644L496 640L476 636L457 631L440 626L424 620L410 615 M688 650L698 659L701 667L697 674L686 681L669 686L647 690L620 693L589 694 M298 635L315 629L334 623L354 618L375 613L397 608L418 604L440 601L461 599 M456 618L422 609L393 601L369 592L353 584L344 578L343 573L350 569L366 568 M322 673L313 672L305 670L299 668L294 665L291 663L290 660L290 656L292 653 M568 641L589 645L597 650L593 655L576 660L547 664L509 668L465 671L417 672 M504 614L497 617L488 620L478 623L468 625L456 628L444 630L431 632L419 633 M281 675L264 672L253 669L249 664L252 660L263 655L279 650L302 646L330 641 M533 640L514 644L493 647L471 648L447 648L423 647L399 644L377 640L356 635 M391 603L381 598L373 594L369 590L368 587L371 584L377 582L387 582L400 581 M476 642L500 641L523 641L545 642L564 644L579 646L589 648L593 651L592 654 M546 577L576 589L600 602L615 614L622 626L619 636L608 644L588 649L561 652 M382 576L412 577L442 580L471 584L498 590L519 597L535 605L543 613L543 620 M638 635L625 643L604 651L576 658L543 666L506 672L468 676L430 679L394 680 M506 653L477 650L450 647L426 644L404 640L387 636L375 633L369 629L368 626 M274 618L261 615L251 611L243 607L237 604L233 600L233 596L234 593L239 589 M295 585L332 579L372 575L414 575L456 577L493 581L525 588L549 597L563 607 M337 647L318 646L300 645L283 644L267 642L252 640L238 638L225 636L214 634 M593 587L600 590L605 593L609 596L610 600L610 604L608 608L603 613L598 618 M499 609L541 611L578 613L608 616L630 619L642 623L644 627L636 630L619 634 M436 698L419 697L402 695L385 692L369 689L354 685L339 681L326 677L315 673 M461 675L434 674L406 672L380 669L354 666L331 663L310 660L292 657L278 654 M663 577L666 579L666 580L665 582L662 585L658 587L652 590L644 593L635 596 M387 579L452 591L514 606L567 622L609 638L635 653L644 666L635 676L609 681 M682 606L667 614L642 622L608 629L567 636L520 641L470 645L418 648L367 649 M419 625L403 622L388 618L373 615L360 611L349 608L340 605L333 602L329 600 M467 636L492 638L513 642L528 646L536 651L538 656L532 661L520 667L501 671 M450 676L429 674L406 672L384 668L362 663L341 658L322 652L304 645L288 638 M620 594L615 597L609 601L601 606L592 610L582 614L571 619L558 623L544 628 M389 628L367 621L347 613L331 606L317 598L306 591L299 585L296 579L296 573 M436 633L420 631L405 629L390 627L376 624L362 622L349 620L336 617L324 615 M531 653L489 645L448 637L408 629L372 621L339 613L311 607L289 601L273 596 M381 642L383 635L394 627L413 619L439 612L469 605L503 599L537 595L569 593 M313 635L335 629L360 624L387 619L416 615L447 611L479 608L511 606L543 604 M440 630L453 628L465 626L477 624L489 623L500 622L510 622L518 622L526 622 M507 593L530 601L543 611L547 623L539 635L521 648L495 659L462 668L424 675 M243 623L238 619L234 615L234 611L235 606L240 602L247 598L256 594L267 590 M367 591L386 592L406 593L427 595L448 597L469 600L490 603L512 607L532 610 M485 663L467 666L448 668L429 670L410 672L391 673L373 673L356 673L341 672 M267 666L241 660L229 655L231 649L246 643L274 639L313 635L359 632L410 632 M582 697L558 699L531 700L501 700L469 698L435 695L402 690L368 684L337 678 M566 682L558 682L549 682L539 681L529 680L519 679L509 677L498 675L487 673 M322 652L318 646L316 641L316 636L319 631L325 626L332 623L342 619L354 616 M554 631L527 636L498 640L471 644L444 646L418 648L395 649L374 649L356 648 M480 643L466 644L451 646L436 647L422 648L407 649L392 650L378 650L363 651 M516 588L540 584L562 582L582 580L598 580L610 581L617 583L620 585L618 589 M562 654L551 656L537 657L522 658L506 659L489 659L471 659L452 659L432 658 M395 660L371 658L350 654L333 649L319 643L310 635L305 628L306 619L312 611 M534 663L479 671L423 678L367 684L316 688L271 690L234 691L208 690L193 687 M264 678L246 669L237 660L239 650L250 641L271 632L300 625L335 619L374 616 M573 591L582 594L588 598L594 601L598 604L600 607L601 610L600 613L598 616 M330 646L337 640L351 633L371 626L396 619L424 613L453 608L482 605L508 603 M629 695L576 687L515 677L450 664L385 650L325 636L275 623L237 612L214 603 M660 618L683 625L697 631L701 637L696 641L681 643L658 644L626 643L588 641 M487 618L510 619L528 621L539 625L544 630L541 636L531 643L515 650L492 657 M549 652L533 653L515 653L495 652L474 651L453 650L431 648L409 646L387 644 M685 582L671 593L647 604L614 615L576 626L533 635L489 642L445 647L405 649 M298 648L283 645L275 642L274 638L280 634L293 629L313 625L338 622L368 618 M356 633L377 629L401 626L427 622L454 619L483 615L511 612L538 610L563 608 M327 675L324 674L324 672L325 671L327 669L331 667L337 664L343 662L352 659 M608 585L598 592L581 600L559 608L533 616L503 623L471 630L438 636L406 640 M312 613L315 612L322 611L333 612L347 613L364 615L384 617L406 621L430 625 M522 640L547 647L571 654L593 661L612 668L629 675L643 681L654 687L662 693 M512 632L571 622L622 615L662 611L688 610L699 613L693 618L671 626L634 636 M428 689L401 690L377 689L356 685L339 679L329 671L324 662L327 652L335 641 M335 679L336 676L340 672L346 669L354 665L364 661L376 656L390 652L404 648 M618 613L633 617L645 622L655 627L662 631L666 635L667 639L666 643L661 646 M551 620L574 624L592 629L604 633L610 637L608 641L600 645L585 649L564 651 M303 646L271 643L252 637L246 630L255 622L277 613L312 603L357 594L410 585 M375 633L370 629L367 625L366 620L367 616L370 613L374 609L380 606L388 603 M536 655L536 661L531 667L521 672L507 676L489 680L468 682L444 683L419 682 M364 590L375 588L388 587L402 586L417 585L432 585L448 585L463 586L477 587 M633 605L631 607L629 610L626 612L622 615L618 617L613 620L607 622L601 624 M303 600L312 597L322 595L333 593L345 592L359 591L373 590L387 590L402 591 M601 632L582 631L561 631L539 630L517 630L494 629L471 628L447 626L424 625 M660 652L655 656L643 659L625 662L602 664L575 666L545 667L513 666L481 665 M430 594L451 597L471 601L491 606L509 611L527 616L544 622L559 628L572 634 M550 608L534 615L511 623L483 632L450 640L415 648L379 655L344 661L313 666 M376 641L390 639L406 638L425 638L444 639L464 639L484 641L503 643L522 645 M630 633L614 636L591 637L562 636L529 634L493 631L458 626L425 620L397 614 M256 613L250 605L256 597L273 589L301 581L338 575L382 570L431 566L483 564 M358 611L335 607L317 604L304 600L297 597L297 595L303 593L315 591L333 591 M375 653L366 646L365 640L370 633L383 627L402 621L426 617L454 615L485 613 M613 608L626 608L638 608L648 608L658 608L665 608L672 609L677 610L680 611 M313 685L261 683L219 680L191 673L177 666L179 656L197 646L229 636L273 627 M326 626L375 622L428 620L481 621L530 624L571 629L602 636L620 645L624 654 M459 620L504 616L548 613L590 611L629 610L664 611L692 612L714 614L728 618 M491 660L485 663L478 665L471 668L464 671L456 673L448 675L440 677L432 678 M619 630L611 631L597 633L580 633L559 633L536 633L512 632L488 630L465 628 M413 658L398 651L387 643L382 635L382 628L388 621L400 616L416 613L435 611 M725 562L732 565L737 569L740 572L741 576L739 581L736 585L730 590L722 594 M258 565L304 562L356 562L412 564L467 568L520 574L566 581L603 590L629 600 M463 640L449 642L434 642L419 643L405 642L391 641L378 639L366 636L355 633 M304 623L292 617L282 611L274 605L268 599L265 594L265 589L267 584L272 580 M292 638L278 635L269 632L265 630L266 628L272 627L283 626L298 626L318 627 M558 645L570 647L581 650L591 653L599 655L606 658L612 660L616 662L618 664 M542 595L543 597L543 600L542 603L541 606L539 608L537 611L533 614L529 616 M390 677L368 675L351 671L340 666L336 660L339 653L349 646L365 639L387 632 M385 610L386 607L387 604L390 601L395 598L400 595L406 592L413 590L422 588 M262 626L285 622L311 618L339 615L368 612L399 610L429 609L459 609L488 609 M549 650L547 655L543 659L538 664L532 669L525 673L517 677L507 681L497 685 M522 671L496 671L470 669L446 667L423 664L402 659L385 654L371 648L360 642 M394 651L376 648L360 644L344 640L331 636L319 633L309 629L301 626L296 623 M491 617L513 615L533 614L552 613L568 615L580 617L589 620L594 624L595 629 M410 663L385 658L363 652L346 647L333 642L326 637L325 634L329 631L340 629 M286 616L288 613L292 611L298 608L305 606L313 603L322 601L332 599L344 597 M628 645L632 646L634 648L634 649L632 650L628 652L623 653L615 655L606 656 M590 659L549 668L506 675L464 681L423 686L387 689L356 691L331 690L314 689 M447 600L466 602L483 605L498 608L509 613L516 618L518 623L517 628L511 633 M378 629L367 621L362 613L362 606L368 600L379 596L394 593L414 592L437 592 M475 663L428 656L382 647L339 638L302 629L271 620L250 612L237 605L235 599 M341 627L373 622L408 617L445 612L484 609L523 606L561 604L596 604L630 604 M433 574L465 569L497 566L528 565L557 565L583 567L604 571L620 576L630 582 M358 618L406 609L456 602L506 596L552 593L591 592L620 593L638 597L643 603 M631 645L632 647L633 650L632 652L630 654L627 656L624 658L619 660L613 662 M618 667L586 671L549 673L506 675L461 675L413 675L366 674L321 671L279 668 M292 589L299 584L312 581L328 578L348 577L372 578L398 579L427 582L457 586 M537 660L504 668L465 674L423 678L381 679L342 677L309 673L285 666L270 658 M267 610L257 608L250 606L247 604L249 602L254 601L263 600L276 600L291 600 M399 605Q445 619 489 621 M453 600Q539 592 625 587 M330 664Q417 663 503 681 M464 601Q562 605 658 581 M544 669Q607 670 668 651 M329 671Q384 664 435 697 M407 604Q466 589 523 578 M514 607Q561 607 607 594 M423 648Q499 661 574 634 M555 582Q643 590 724 631 M334 671Q408 656 474 621 M585 650Q633 640 676 624 M362 664Q417 676 468 638 M535 594Q628 603 720 608 M497 678Q582 669 663 718 M505 636Q587 648 668 629 M462 605Q508 605 552 582 M308 629Q348 629 388 628 M457 674Q488 673 516 689 M464 652Q553 649 641 636 M588 584Q662 570 736 598 M479 653Q574 668 668 631 M448 631Q541 637 624 571 M484 614Q574 613 664 597 M453 664Q498 661 542 660 M462 670Q512 667 560 693 M446 606Q512 611 570 649 M536 613Q588 616 639 598 M487 665Q520 677 552 675 M459 581Q510 571 555 546 M576 645Q652 657 725 675 M480 646Q554 649 626 666 M501 599Q578 607 654 595 M321 596Q354 608 385 608 M493 617Q581 619 665 652 M370 610Q430 608 488 595 M489 682Q523 669 557 686 M327 668Q397 667 461 709 M294 620Q366 634 431 663 M437 622Q475 614 511 630 M337 577Q367 565 397 585 M590 585Q680 571 765 539 M513 603Q594 589 672 568 M530 657Q620 645 707 686 M485 657Q547 649 604 694 M589 657Q620 662 647 637 M543 584Q595 574 646 601 M557 631Q591 633 625 625 M426 653Q466 649 505 669 M490 647Q549 656 608 638 M583 665Q653 652 721 645 M592 656Q680 659 767 635 M593 671Q665 668 736 651 M565 618Q643 630 721 629 M540 608Q570 605 600 598 M472 669Q564 679 647 611 M542 675Q612 685 680 653 M540 654Q634 641 727 634 M462 667Q506 680 548 682 M363 645Q440 636 517 641" stroke="#2f5fc4" stroke-width="1.25" fill="none" stroke-linejoin="round"/></g>
<path d="M297.5 603 A160.5 25 0 0 1 618.5 603" stroke="#3a66c4" stroke-width="1.2" fill="none"/>
<circle cx="370.0" cy="586.6" r="3.4" fill="url(#dot)"/>
<circle cx="377.3" cy="590.8" r="3.4" fill="url(#dot)"/>
<circle cx="331.6" cy="601.2" r="3.4" fill="url(#dot)"/>
<circle cx="338.8" cy="608.4" r="3.4" fill="url(#dot)"/>
<circle cx="341.0" cy="617.8" r="3.4" fill="url(#dot)"/>
<circle cx="349.2" cy="604.3" r="3.4" fill="url(#dot)"/>
<circle cx="359.6" cy="610.5" r="3.4" fill="url(#dot)"/>
<circle cx="366.9" cy="599.1" r="3.4" fill="url(#dot)"/>
<circle cx="374.2" cy="602.2" r="3.4" fill="url(#dot)"/>
<circle cx="378.3" cy="616.8" r="3.4" fill="url(#dot)"/>
<circle cx="385.6" cy="599.1" r="3.4" fill="url(#dot)"/>
<circle cx="388.7" cy="607.4" r="3.4" fill="url(#dot)"/>
<circle cx="395.0" cy="593.9" r="3.4" fill="url(#dot)"/>
<circle cx="393.9" cy="610.5" r="3.4" fill="url(#dot)"/>
<circle cx="397.0" cy="626.1" r="3.4" fill="url(#dot)"/>
<circle cx="404.3" cy="588.7" r="3.4" fill="url(#dot)"/>
<circle cx="403.3" cy="601.2" r="3.4" fill="url(#dot)"/>
<circle cx="415.7" cy="590.8" r="3.4" fill="url(#dot)"/>
<circle cx="416.8" cy="607.4" r="3.4" fill="url(#dot)"/>
<circle cx="419.9" cy="618.8" r="3.4" fill="url(#dot)"/>
<circle cx="423.0" cy="597.0" r="3.4" fill="url(#dot)"/>
<circle cx="426.1" cy="585.6" r="3.4" fill="url(#dot)"/>
<circle cx="433.4" cy="616.8" r="3.4" fill="url(#dot)"/>
<circle cx="434.4" cy="625.1" r="3.4" fill="url(#dot)"/>
<circle cx="436.5" cy="589.7" r="3.4" fill="url(#dot)"/>
<circle cx="439.6" cy="604.3" r="3.4" fill="url(#dot)"/>
<circle cx="443.8" cy="608.4" r="3.4" fill="url(#dot)"/>
<circle cx="448.0" cy="595.0" r="3.4" fill="url(#dot)"/>
<circle cx="454.2" cy="612.6" r="3.4" fill="url(#dot)"/>
<circle cx="456.3" cy="585.6" r="3.4" fill="url(#dot)"/>
<circle cx="459.4" cy="599.1" r="3.4" fill="url(#dot)"/>
<circle cx="460.4" cy="590.8" r="3.4" fill="url(#dot)"/>
<circle cx="465.6" cy="617.8" r="3.4" fill="url(#dot)"/>
<circle cx="470.8" cy="597.0" r="3.4" fill="url(#dot)"/>
<circle cx="472.9" cy="609.5" r="3.4" fill="url(#dot)"/>
<circle cx="479.1" cy="590.8" r="3.4" fill="url(#dot)"/>
<circle cx="481.2" cy="584.5" r="3.4" fill="url(#dot)"/>
<circle cx="484.3" cy="614.7" r="3.4" fill="url(#dot)"/>
<circle cx="498.9" cy="585.6" r="3.4" fill="url(#dot)"/>
<circle cx="499.9" cy="618.8" r="3.4" fill="url(#dot)"/>
<circle cx="500.9" cy="597.0" r="3.4" fill="url(#dot)"/>
<circle cx="502.0" cy="605.3" r="3.4" fill="url(#dot)"/>
<circle cx="506.1" cy="589.7" r="3.4" fill="url(#dot)"/>
<circle cx="507.2" cy="610.5" r="3.4" fill="url(#dot)"/>
<circle cx="510.3" cy="601.2" r="3.4" fill="url(#dot)"/>
<circle cx="524.8" cy="610.5" r="3.4" fill="url(#dot)"/>
<circle cx="526.9" cy="589.7" r="3.4" fill="url(#dot)"/>
<circle cx="532.1" cy="587.7" r="3.4" fill="url(#dot)"/>
<circle cx="537.3" cy="594.9" r="3.4" fill="url(#dot)"/>
<circle cx="549.8" cy="601.2" r="3.4" fill="url(#dot)"/>
<circle cx="550.8" cy="617.8" r="3.4" fill="url(#dot)"/>
<circle cx="552.9" cy="591.8" r="3.4" fill="url(#dot)"/>
<circle cx="551.9" cy="605.3" r="3.4" fill="url(#dot)"/>
<circle cx="564.3" cy="611.6" r="3.4" fill="url(#dot)"/>
<circle cx="574.7" cy="598.1" r="3.4" fill="url(#dot)"/>
<circle cx="578.9" cy="603.3" r="3.4" fill="url(#dot)"/>
<circle cx="585.1" cy="609.5" r="3.4" fill="url(#dot)"/>
</g>
<circle cx="20.1" cy="918.7" r="9.7" fill="url(#dot)"/>
<path d="M278 927 C290 924 295 920 302 916 C310 913 317 913 321 907" stroke="#3d62b8" stroke-width="3" fill="none" stroke-linecap="round"/>
<rect x="539.3" y="911.6" width="21.7" height="20.4" fill="#6bb9d0"/>

<rect x="665" y="425.5" width="289" height="238.5" fill="#f4f4f4"/>
<rect x="998.5" y="425.5" width="289" height="238.5" fill="#f4f4f4"/>
<rect x="1333.4" y="425.5" width="288" height="238.5" fill="#f4f4f4"/>
<rect x="666" y="691" width="288" height="167" fill="#f4f4f4"/>
<rect x="999.4" y="691" width="287" height="167" fill="#f4f4f4"/>
<rect x="1333.3" y="691" width="288" height="167" fill="#f4f4f4"/>
<rect x="803.4" y="411.8" width="2.6" height="28" fill="url(#arr)"/>
<path d="M798.2 438.5 L811.2 438.5 L804.7 454.7 Z" fill="#000"/>
<rect x="1141.7" y="411.8" width="2.6" height="28" fill="url(#arr)"/>
<path d="M1136.5 438.5 L1149.5 438.5 L1143.0 454.7 Z" fill="#000"/>
<rect x="1481.1" y="411.8" width="2.6" height="28" fill="url(#arr)"/>
<path d="M1475.9 438.5 L1488.9 438.5 L1482.4 454.7 Z" fill="#000"/>
<g>
<polygon points="697.7,481.9 849.3,488.0 848.8,499.2 697.2,493.1" fill="#3a6db5"/>
<polygon points="697.7,478.9 849.3,485.0 848.8,496.2 697.2,490.1" fill="#4b88d8"/>
<polygon points="741.5,471.7 741.5,589.2 730.3,589.2 730.3,471.7" fill="#3a6db5"/>
<polygon points="741.5,468.7 741.5,586.2 730.3,586.2 730.3,468.7" fill="#4b88d8"/>
<polygon points="727.5,468.5 902.1,619.0 894.8,627.5 720.2,477.0" fill="#3a6db5"/>
<polygon points="727.5,465.5 902.1,616.0 894.8,624.5 720.2,474.0" fill="#4b88d8"/>
<polygon points="842.1,468.5 760.8,650.8 750.6,646.2 831.8,463.9" fill="#3a6db5"/>
<polygon points="842.1,465.5 760.8,647.8 750.6,643.2 831.8,460.9" fill="#4b88d8"/>
<polygon points="848.6,472.6 910.2,607.8 900.0,612.4 838.5,477.3" fill="#3a6db5"/>
<polygon points="848.6,469.6 910.2,604.8 900.0,609.4 838.5,474.3" fill="#4b88d8"/>
<polygon points="692.2,522.2 886.6,492.5 888.3,503.6 693.9,533.2" fill="#3a6db5"/>
<polygon points="692.2,519.2 886.6,489.5 888.3,500.6 693.9,530.2" fill="#4b88d8"/>
<polygon points="679.7,581.5 810.4,477.2 817.4,485.9 686.7,590.3" fill="#3a6db5"/>
<polygon points="679.7,578.5 810.4,474.2 817.4,482.9 686.7,587.3" fill="#4b88d8"/>
<polygon points="694.9,523.2 944.2,556.2 942.8,567.3 693.4,534.3" fill="#3a6db5"/>
<polygon points="694.9,520.2 944.2,553.2 942.8,564.3 693.4,531.3" fill="#4b88d8"/>
<polygon points="686.7,590.6 861.3,523.6 865.3,534.0 690.7,601.0" fill="#3a6db5"/>
<polygon points="686.7,587.6 861.3,520.6 865.3,531.0 690.7,598.0" fill="#4b88d8"/>
<polygon points="694.0,633.2 929.1,578.3 931.6,589.2 696.5,644.1" fill="#3a6db5"/>
<polygon points="694.0,630.2 929.1,575.3 931.6,586.2 696.5,641.1" fill="#4b88d8"/>
<polygon points="749.6,645.6 885.8,514.9 893.6,522.9 757.4,653.7" fill="#3a6db5"/>
<polygon points="749.6,642.6 885.8,511.9 893.6,519.9 757.4,650.7" fill="#4b88d8"/>
</g>
<circle cx="817.6" cy="469.8" r="5" fill="url(#dot)"/>
<circle cx="772.6" cy="487.8" r="5" fill="url(#dot)"/>
<circle cx="722.3" cy="527.3" r="5" fill="url(#dot)"/>
<circle cx="782.7" cy="524.7" r="5" fill="url(#dot)"/>
<circle cx="814.3" cy="530.2" r="5" fill="url(#dot)"/>
<circle cx="878.3" cy="510.9" r="5" fill="url(#dot)"/>
<circle cx="849.7" cy="543.4" r="5" fill="url(#dot)"/>
<circle cx="785.8" cy="580.7" r="5" fill="url(#dot)"/>
<circle cx="838.5" cy="580.3" r="5" fill="url(#dot)"/>
<circle cx="738.8" cy="603.1" r="5" fill="url(#dot)"/>
<circle cx="858.9" cy="629.0" r="5" fill="url(#dot)"/>
<circle cx="814.6" cy="640.0" r="5" fill="url(#dot)"/>
<polygon points="1022.8,557.5 1151.4,614.4 1268.5,555 1268.5,560 1151.4,619.4 1022.8,562.5" fill="#13876b"/>
<polygon points="1022.8,557.5 1143,523.3 1268.5,555 1151.4,614.4" fill="#24b491"/>
<g fill="#0e6e56"><ellipse cx="1032.4" cy="558.3" rx="2.7" ry="1.8"/><ellipse cx="1042.2" cy="562.6" rx="2.7" ry="1.8"/><ellipse cx="1052.1" cy="566.9" rx="2.7" ry="1.8"/><ellipse cx="1062.0" cy="571.2" rx="2.7" ry="1.8"/><ellipse cx="1071.9" cy="575.5" rx="2.7" ry="1.8"/><ellipse cx="1081.8" cy="579.8" rx="2.7" ry="1.8"/><ellipse cx="1091.7" cy="584.1" rx="2.7" ry="1.8"/><ellipse cx="1101.5" cy="588.5" rx="2.7" ry="1.8"/><ellipse cx="1111.4" cy="592.8" rx="2.7" ry="1.8"/><ellipse cx="1121.3" cy="597.1" rx="2.7" ry="1.8"/><ellipse cx="1131.2" cy="601.4" rx="2.7" ry="1.8"/><ellipse cx="1141.1" cy="605.7" rx="2.7" ry="1.8"/><ellipse cx="1151.0" cy="610.0" rx="2.7" ry="1.8"/><ellipse cx="1041.6" cy="555.6" rx="2.7" ry="1.8"/><ellipse cx="1051.5" cy="559.8" rx="2.7" ry="1.8"/><ellipse cx="1061.3" cy="563.9" rx="2.7" ry="1.8"/><ellipse cx="1071.2" cy="568.1" rx="2.7" ry="1.8"/><ellipse cx="1081.1" cy="572.2" rx="2.7" ry="1.8"/><ellipse cx="1090.9" cy="576.4" rx="2.7" ry="1.8"/><ellipse cx="1100.8" cy="580.5" rx="2.7" ry="1.8"/><ellipse cx="1110.7" cy="584.7" rx="2.7" ry="1.8"/><ellipse cx="1120.5" cy="588.9" rx="2.7" ry="1.8"/><ellipse cx="1130.4" cy="593.0" rx="2.7" ry="1.8"/><ellipse cx="1140.2" cy="597.2" rx="2.7" ry="1.8"/><ellipse cx="1150.1" cy="601.3" rx="2.7" ry="1.8"/><ellipse cx="1160.0" cy="605.5" rx="2.7" ry="1.8"/><ellipse cx="1050.8" cy="552.9" rx="2.7" ry="1.8"/><ellipse cx="1060.7" cy="556.9" rx="2.7" ry="1.8"/><ellipse cx="1070.5" cy="560.9" rx="2.7" ry="1.8"/><ellipse cx="1080.4" cy="564.9" rx="2.7" ry="1.8"/><ellipse cx="1090.2" cy="568.9" rx="2.7" ry="1.8"/><ellipse cx="1100.1" cy="572.9" rx="2.7" ry="1.8"/><ellipse cx="1109.9" cy="577.0" rx="2.7" ry="1.8"/><ellipse cx="1119.8" cy="581.0" rx="2.7" ry="1.8"/><ellipse cx="1129.6" cy="585.0" rx="2.7" ry="1.8"/><ellipse cx="1139.5" cy="589.0" rx="2.7" ry="1.8"/><ellipse cx="1149.3" cy="593.0" rx="2.7" ry="1.8"/><ellipse cx="1159.1" cy="597.0" rx="2.7" ry="1.8"/><ellipse cx="1169.0" cy="601.0" rx="2.7" ry="1.8"/><ellipse cx="1060.1" cy="550.2" rx="2.7" ry="1.8"/><ellipse cx="1069.9" cy="554.1" rx="2.7" ry="1.8"/><ellipse cx="1079.7" cy="557.9" rx="2.7" ry="1.8"/><ellipse cx="1089.6" cy="561.8" rx="2.7" ry="1.8"/><ellipse cx="1099.4" cy="565.6" rx="2.7" ry="1.8"/><ellipse cx="1109.2" cy="569.5" rx="2.7" ry="1.8"/><ellipse cx="1119.0" cy="573.4" rx="2.7" ry="1.8"/><ellipse cx="1128.9" cy="577.2" rx="2.7" ry="1.8"/><ellipse cx="1138.7" cy="581.1" rx="2.7" ry="1.8"/><ellipse cx="1148.5" cy="584.9" rx="2.7" ry="1.8"/><ellipse cx="1158.4" cy="588.8" rx="2.7" ry="1.8"/><ellipse cx="1168.2" cy="592.6" rx="2.7" ry="1.8"/><ellipse cx="1178.0" cy="596.5" rx="2.7" ry="1.8"/><ellipse cx="1069.3" cy="547.5" rx="2.7" ry="1.8"/><ellipse cx="1079.1" cy="551.2" rx="2.7" ry="1.8"/><ellipse cx="1088.9" cy="554.9" rx="2.7" ry="1.8"/><ellipse cx="1098.7" cy="558.6" rx="2.7" ry="1.8"/><ellipse cx="1108.6" cy="562.3" rx="2.7" ry="1.8"/><ellipse cx="1118.4" cy="566.0" rx="2.7" ry="1.8"/><ellipse cx="1128.2" cy="569.7" rx="2.7" ry="1.8"/><ellipse cx="1138.0" cy="573.5" rx="2.7" ry="1.8"/><ellipse cx="1147.8" cy="577.2" rx="2.7" ry="1.8"/><ellipse cx="1157.6" cy="580.9" rx="2.7" ry="1.8"/><ellipse cx="1167.4" cy="584.6" rx="2.7" ry="1.8"/><ellipse cx="1177.2" cy="588.3" rx="2.7" ry="1.8"/><ellipse cx="1187.0" cy="592.0" rx="2.7" ry="1.8"/><ellipse cx="1078.5" cy="544.8" rx="2.7" ry="1.8"/><ellipse cx="1088.3" cy="548.4" rx="2.7" ry="1.8"/><ellipse cx="1098.1" cy="551.9" rx="2.7" ry="1.8"/><ellipse cx="1107.9" cy="555.5" rx="2.7" ry="1.8"/><ellipse cx="1117.7" cy="559.0" rx="2.7" ry="1.8"/><ellipse cx="1127.5" cy="562.6" rx="2.7" ry="1.8"/><ellipse cx="1137.3" cy="566.1" rx="2.7" ry="1.8"/><ellipse cx="1147.1" cy="569.7" rx="2.7" ry="1.8"/><ellipse cx="1156.9" cy="573.3" rx="2.7" ry="1.8"/><ellipse cx="1166.7" cy="576.8" rx="2.7" ry="1.8"/><ellipse cx="1176.5" cy="580.4" rx="2.7" ry="1.8"/><ellipse cx="1186.3" cy="583.9" rx="2.7" ry="1.8"/><ellipse cx="1196.0" cy="587.5" rx="2.7" ry="1.8"/><ellipse cx="1087.8" cy="542.1" rx="2.7" ry="1.8"/><ellipse cx="1097.6" cy="545.5" rx="2.7" ry="1.8"/><ellipse cx="1107.3" cy="548.9" rx="2.7" ry="1.8"/><ellipse cx="1117.1" cy="552.3" rx="2.7" ry="1.8"/><ellipse cx="1126.9" cy="555.7" rx="2.7" ry="1.8"/><ellipse cx="1136.7" cy="559.1" rx="2.7" ry="1.8"/><ellipse cx="1146.4" cy="562.5" rx="2.7" ry="1.8"/><ellipse cx="1156.2" cy="566.0" rx="2.7" ry="1.8"/><ellipse cx="1166.0" cy="569.4" rx="2.7" ry="1.8"/><ellipse cx="1175.7" cy="572.8" rx="2.7" ry="1.8"/><ellipse cx="1185.5" cy="576.2" rx="2.7" ry="1.8"/><ellipse cx="1195.3" cy="579.6" rx="2.7" ry="1.8"/><ellipse cx="1205.1" cy="583.0" rx="2.7" ry="1.8"/><ellipse cx="1097.0" cy="539.4" rx="2.7" ry="1.8"/><ellipse cx="1106.8" cy="542.7" rx="2.7" ry="1.8"/><ellipse cx="1116.5" cy="545.9" rx="2.7" ry="1.8"/><ellipse cx="1126.3" cy="549.2" rx="2.7" ry="1.8"/><ellipse cx="1136.0" cy="552.4" rx="2.7" ry="1.8"/><ellipse cx="1145.8" cy="555.7" rx="2.7" ry="1.8"/><ellipse cx="1155.6" cy="558.9" rx="2.7" ry="1.8"/><ellipse cx="1165.3" cy="562.2" rx="2.7" ry="1.8"/><ellipse cx="1175.1" cy="565.5" rx="2.7" ry="1.8"/><ellipse cx="1184.8" cy="568.7" rx="2.7" ry="1.8"/><ellipse cx="1194.6" cy="572.0" rx="2.7" ry="1.8"/><ellipse cx="1204.3" cy="575.2" rx="2.7" ry="1.8"/><ellipse cx="1214.1" cy="578.5" rx="2.7" ry="1.8"/><ellipse cx="1106.3" cy="536.7" rx="2.7" ry="1.8"/><ellipse cx="1116.0" cy="539.8" rx="2.7" ry="1.8"/><ellipse cx="1125.7" cy="542.9" rx="2.7" ry="1.8"/><ellipse cx="1135.5" cy="546.0" rx="2.7" ry="1.8"/><ellipse cx="1145.2" cy="549.1" rx="2.7" ry="1.8"/><ellipse cx="1154.9" cy="552.2" rx="2.7" ry="1.8"/><ellipse cx="1164.7" cy="555.4" rx="2.7" ry="1.8"/><ellipse cx="1174.4" cy="558.5" rx="2.7" ry="1.8"/><ellipse cx="1184.2" cy="561.6" rx="2.7" ry="1.8"/><ellipse cx="1193.9" cy="564.7" rx="2.7" ry="1.8"/><ellipse cx="1203.6" cy="567.8" rx="2.7" ry="1.8"/><ellipse cx="1213.4" cy="570.9" rx="2.7" ry="1.8"/><ellipse cx="1223.1" cy="574.0" rx="2.7" ry="1.8"/><ellipse cx="1115.5" cy="534.0" rx="2.7" ry="1.8"/><ellipse cx="1125.2" cy="536.9" rx="2.7" ry="1.8"/><ellipse cx="1134.9" cy="539.9" rx="2.7" ry="1.8"/><ellipse cx="1144.7" cy="542.9" rx="2.7" ry="1.8"/><ellipse cx="1154.4" cy="545.8" rx="2.7" ry="1.8"/><ellipse cx="1164.1" cy="548.8" rx="2.7" ry="1.8"/><ellipse cx="1173.8" cy="551.7" rx="2.7" ry="1.8"/><ellipse cx="1183.5" cy="554.7" rx="2.7" ry="1.8"/><ellipse cx="1193.2" cy="557.7" rx="2.7" ry="1.8"/><ellipse cx="1203.0" cy="560.6" rx="2.7" ry="1.8"/><ellipse cx="1212.7" cy="563.6" rx="2.7" ry="1.8"/><ellipse cx="1222.4" cy="566.6" rx="2.7" ry="1.8"/><ellipse cx="1232.1" cy="569.5" rx="2.7" ry="1.8"/><ellipse cx="1124.7" cy="531.3" rx="2.7" ry="1.8"/><ellipse cx="1134.4" cy="534.1" rx="2.7" ry="1.8"/><ellipse cx="1144.1" cy="536.9" rx="2.7" ry="1.8"/><ellipse cx="1153.8" cy="539.7" rx="2.7" ry="1.8"/><ellipse cx="1163.5" cy="542.5" rx="2.7" ry="1.8"/><ellipse cx="1173.2" cy="545.3" rx="2.7" ry="1.8"/><ellipse cx="1182.9" cy="548.1" rx="2.7" ry="1.8"/><ellipse cx="1192.6" cy="551.0" rx="2.7" ry="1.8"/><ellipse cx="1202.3" cy="553.8" rx="2.7" ry="1.8"/><ellipse cx="1212.0" cy="556.6" rx="2.7" ry="1.8"/><ellipse cx="1221.7" cy="559.4" rx="2.7" ry="1.8"/><ellipse cx="1231.4" cy="562.2" rx="2.7" ry="1.8"/><ellipse cx="1241.1" cy="565.0" rx="2.7" ry="1.8"/><ellipse cx="1134.0" cy="528.6" rx="2.7" ry="1.8"/><ellipse cx="1143.7" cy="531.2" rx="2.7" ry="1.8"/><ellipse cx="1153.3" cy="533.9" rx="2.7" ry="1.8"/><ellipse cx="1163.0" cy="536.6" rx="2.7" ry="1.8"/><ellipse cx="1172.7" cy="539.2" rx="2.7" ry="1.8"/><ellipse cx="1182.4" cy="541.9" rx="2.7" ry="1.8"/><ellipse cx="1192.1" cy="544.5" rx="2.7" ry="1.8"/><ellipse cx="1201.7" cy="547.2" rx="2.7" ry="1.8"/><ellipse cx="1211.4" cy="549.9" rx="2.7" ry="1.8"/><ellipse cx="1221.1" cy="552.5" rx="2.7" ry="1.8"/><ellipse cx="1230.8" cy="555.2" rx="2.7" ry="1.8"/><ellipse cx="1240.5" cy="557.9" rx="2.7" ry="1.8"/><ellipse cx="1250.1" cy="560.5" rx="2.7" ry="1.8"/><ellipse cx="1143.2" cy="525.9" rx="2.7" ry="1.8"/><ellipse cx="1152.9" cy="528.4" rx="2.7" ry="1.8"/><ellipse cx="1162.5" cy="530.9" rx="2.7" ry="1.8"/><ellipse cx="1172.2" cy="533.4" rx="2.7" ry="1.8"/><ellipse cx="1181.9" cy="535.9" rx="2.7" ry="1.8"/><ellipse cx="1191.5" cy="538.4" rx="2.7" ry="1.8"/><ellipse cx="1201.2" cy="541.0" rx="2.7" ry="1.8"/><ellipse cx="1210.8" cy="543.5" rx="2.7" ry="1.8"/><ellipse cx="1220.5" cy="546.0" rx="2.7" ry="1.8"/><ellipse cx="1230.2" cy="548.5" rx="2.7" ry="1.8"/><ellipse cx="1239.8" cy="551.0" rx="2.7" ry="1.8"/><ellipse cx="1249.5" cy="553.5" rx="2.7" ry="1.8"/><ellipse cx="1259.2" cy="556.0" rx="2.7" ry="1.8"/></g>
<circle cx="1142.3" cy="473.1" r="5.4" fill="url(#dot)"/>
<circle cx="1107.2" cy="501.6" r="5.4" fill="url(#dot)"/>
<circle cx="1154.7" cy="509.0" r="5.4" fill="url(#dot)"/>
<circle cx="1193.2" cy="508.3" r="5.4" fill="url(#dot)"/>
<circle cx="1112.6" cy="532.4" r="5.4" fill="url(#dot)"/>
<circle cx="1184.9" cy="540.1" r="5.4" fill="url(#dot)"/>
<circle cx="1067.0" cy="545.1" r="5.4" fill="url(#dot)"/>
<circle cx="1153.0" cy="553.1" r="5.4" fill="url(#dot)"/>
<circle cx="1226.0" cy="554.1" r="5.4" fill="url(#dot)"/>
<circle cx="1098.8" cy="568.2" r="5.4" fill="url(#dot)"/>
<circle cx="1186.9" cy="573.6" r="5.4" fill="url(#dot)"/>
<circle cx="1148.0" cy="595.3" r="5.4" fill="url(#dot)"/>
<path d="M1378.5 475.4 L1572 475.4 L1606 573 L1606 595 L1355.4 595 L1355.4 573 Z" fill="#e9eef8"/>
<g clip-path="url(#topslab)"><path d="M1505 498Q1564 501 1640 493 M1391 555Q1450 574 1494 592 M1470 522Q1493 517 1530 506 M1464 510Q1501 503 1552 511 M1422 580Q1454 577 1475 586 M1416 536Q1453 523 1509 494 M1447 565Q1505 553 1553 543 M1509 574Q1567 594 1636 629 M1380 492Q1404 488 1426 473 M1548 520Q1620 491 1687 465 M1551 483Q1589 492 1622 487 M1426 544Q1481 538 1516 516 M1348 494Q1392 496 1419 485 M1350 562Q1419 582 1482 587 M1372 476Q1436 497 1493 525 M1507 535Q1528 525 1559 527 M1377 523Q1413 505 1442 502 M1383 549Q1398 564 1424 565 M1536 565Q1556 571 1592 563 M1478 563Q1531 556 1572 550 M1371 539Q1407 527 1433 514 M1532 486Q1561 479 1603 480 M1414 562Q1440 569 1474 562 M1555 483Q1581 486 1599 498 M1403 523Q1435 521 1472 504 M1544 580Q1577 568 1594 570 M1405 550Q1483 515 1548 485 M1340 485Q1404 486 1480 489 M1388 570Q1433 558 1491 537 M1383 548Q1409 539 1430 531 M1385 500Q1447 512 1497 521 M1354 492Q1423 480 1482 482 M1414 559Q1481 573 1548 603 M1445 570Q1509 561 1586 541 M1376 510Q1408 514 1460 517 M1453 519Q1487 530 1507 529 M1496 505Q1530 521 1580 524 M1449 575Q1500 569 1550 578 M1389 576Q1413 571 1447 555 M1361 473Q1411 459 1481 441 M1455 533Q1521 516 1572 491 M1367 475Q1412 469 1466 475 M1370 515Q1416 533 1476 549 M1376 552Q1438 577 1505 604 M1456 562Q1502 576 1537 595 M1414 496Q1462 522 1498 534 M1526 560Q1559 567 1573 560 M1433 497Q1491 484 1548 484 M1451 518Q1481 515 1491 504 M1479 573Q1552 588 1609 618 M1398 541Q1459 535 1518 517 M1395 538Q1455 532 1497 532 M1482 504Q1519 506 1537 508 M1443 500Q1485 478 1542 468 M1429 502Q1458 495 1502 486 M1474 562Q1522 573 1582 577 M1461 521Q1514 515 1574 518 M1453 494Q1486 495 1538 501 M1392 565Q1442 572 1499 564 M1510 503Q1545 491 1565 481 M1425 477Q1463 482 1516 496 M1503 576Q1529 574 1560 567 M1527 538Q1601 543 1666 540 M1445 554Q1519 560 1577 578 M1341 566Q1407 578 1472 576 M1432 533Q1498 552 1559 576 M1441 520Q1501 509 1565 497 M1411 512Q1475 532 1539 553 M1407 490Q1437 486 1464 494 M1411 571Q1488 587 1546 612 M1540 517Q1561 509 1578 501 M1510 571Q1558 594 1605 615 M1426 545Q1464 556 1508 552 M1456 544Q1479 543 1507 539 M1534 533Q1610 534 1689 531 M1416 580Q1459 591 1515 608 M1522 578Q1577 564 1617 544 M1558 560Q1624 552 1704 550 M1451 526Q1484 519 1511 509 M1559 509Q1610 491 1666 464 M1492 504Q1519 502 1532 497 M1383 543Q1428 548 1483 548 M1559 528Q1606 519 1668 520 M1363 554Q1389 551 1413 539 M1517 537Q1544 525 1561 518 M1418 549Q1439 549 1477 536 M1417 534Q1455 536 1510 525 M1551 534Q1592 532 1643 544 M1528 572Q1571 583 1601 599 M1551 536Q1592 554 1643 574 M1389 549Q1425 566 1462 574 M1378 497Q1428 482 1458 474 M1365 532Q1415 520 1469 521 M1522 484Q1556 471 1602 465 M1348 496Q1400 491 1466 480 M1399 480Q1465 463 1532 435 M1375 559Q1413 574 1456 574 M1549 493Q1597 475 1647 469 M1397 548Q1468 549 1545 559 M1387 537Q1455 514 1524 490 M1510 500Q1554 503 1595 512 M1359 513Q1385 525 1417 531 M1464 482Q1501 475 1547 482 M1390 504Q1413 508 1444 515 M1510 570Q1573 589 1649 615 M1490 473Q1547 468 1608 458 M1395 547Q1467 533 1535 529 M1541 483Q1595 487 1667 506 M1384 488Q1412 481 1460 480 M1380 540Q1454 541 1520 549 M1491 518Q1534 505 1565 483 M1349 501Q1411 504 1491 515 M1514 482Q1550 487 1575 505 M1427 546Q1484 558 1551 583 M1433 574Q1513 592 1583 599 M1440 539Q1461 543 1485 547 M1368 572Q1433 552 1489 521 M1460 499Q1539 504 1615 517 M1419 477Q1458 459 1505 454 M1487 548Q1521 539 1554 532 M1417 573Q1446 586 1489 598 M1519 507Q1564 521 1622 531 M1441 536Q1497 551 1568 573 M1385 510Q1403 508 1432 501 M1365 519Q1402 513 1444 517 M1342 478Q1412 499 1498 512 M1464 578Q1489 573 1517 577 M1342 530Q1419 546 1491 549 M1395 542Q1419 535 1461 520 M1405 562Q1443 573 1467 570 M1513 489Q1577 498 1649 518 M1410 561Q1450 568 1495 565 M1349 496Q1409 506 1456 508 M1548 570Q1591 566 1647 570 M1358 534Q1415 524 1475 498 M1349 480Q1398 460 1438 455 M1528 562Q1591 561 1662 554 M1433 527Q1476 530 1513 522 M1376 569Q1415 565 1452 566 M1359 491Q1408 497 1438 489 M1554 565Q1638 566 1709 581 M1474 544Q1521 546 1550 549 M1406 541Q1435 550 1483 568 M1438 545Q1461 549 1488 552 M1457 516Q1503 506 1564 506 M1461 568Q1481 570 1511 585 M1395 528Q1439 532 1494 533 M1453 482Q1503 456 1556 443 M1530 518Q1587 522 1634 538 M1499 579Q1522 581 1549 594 M1464 576Q1533 548 1590 534 M1422 496Q1437 495 1464 499 M1434 548Q1514 557 1580 563 M1532 571Q1558 582 1590 584 M1522 545Q1554 549 1576 539 M1350 549Q1403 535 1455 511 M1544 482Q1597 469 1662 457 M1468 562Q1485 556 1517 540 M1462 490Q1496 491 1536 503 M1458 566Q1527 575 1577 599 M1373 508Q1427 516 1468 540 M1520 490Q1580 479 1641 479 M1427 563Q1490 567 1571 577 M1537 494Q1581 470 1639 451 M1467 521Q1500 517 1553 510 M1345 507Q1379 521 1431 546 M1400 544Q1432 545 1473 544 M1551 528Q1625 501 1697 465 M1510 566Q1565 569 1626 580 M1532 557Q1603 574 1683 582 M1452 551Q1511 542 1567 536 M1414 477Q1450 491 1486 509 M1392 497Q1421 490 1469 471 M1438 520Q1485 504 1545 501 M1408 503Q1480 503 1535 509 M1468 571Q1494 572 1516 558 M1510 509Q1545 523 1597 538 M1401 569Q1426 551 1466 540 M1388 547Q1433 542 1473 525 M1383 541Q1444 560 1501 592 M1533 559Q1565 547 1610 534 M1481 566Q1550 552 1627 529 M1429 541Q1480 531 1549 524 M1478 475Q1520 471 1558 475 M1343 521Q1428 518 1494 529 M1499 538Q1530 518 1574 510 M1360 554Q1429 551 1497 545 M1485 531Q1545 519 1596 515 M1508 548Q1579 545 1639 526 M1401 520Q1441 531 1496 558 M1484 522Q1560 510 1616 506 M1360 553Q1372 546 1401 540 M1380 531Q1449 517 1532 513 M1543 551Q1576 535 1597 527 M1450 578Q1513 570 1565 562 M1539 506Q1556 513 1591 516 M1530 514Q1552 522 1577 517 M1478 574Q1506 566 1543 560 M1385 495Q1446 512 1515 512 M1465 494Q1501 499 1521 512 M1521 553Q1557 554 1594 542 M1490 488Q1548 492 1602 483 M1534 493Q1582 498 1615 513 M1559 565Q1586 557 1628 535 M1541 471Q1561 472 1597 483 M1360 545Q1402 566 1435 574 M1347 578Q1384 579 1413 595 M1391 526Q1424 518 1477 495 M1533 505Q1553 503 1588 504 M1491 490Q1519 489 1547 502 M1449 509Q1518 507 1598 489 M1501 567Q1531 550 1571 547 M1452 475Q1494 469 1541 479 M1484 546Q1540 556 1589 550 M1498 566Q1540 567 1585 552 M1425 513Q1477 491 1510 485 M1544 537Q1576 536 1614 544 M1366 492Q1442 502 1502 526 M1411 546Q1466 556 1529 551 M1504 470Q1577 479 1647 471 M1478 496Q1547 487 1607 482 M1475 528Q1537 519 1595 509 M1475 495Q1508 511 1542 520 M1445 527Q1485 518 1508 507 M1456 528Q1517 517 1590 497 M1481 521Q1554 537 1612 568 M1523 512Q1582 486 1654 467 M1418 481Q1486 476 1555 484 M1559 514Q1621 516 1683 508 M1373 553Q1434 542 1494 539" stroke="#3468d8" stroke-width="1.8" fill="none"/><path d="M1415 511L1503 452 M1466 492L1527 466 M1400 549L1494 518 M1360 562L1484 620 M1433 492L1587 514 M1350 511L1461 493 M1405 548L1512 568 M1418 559L1523 569 M1382 572L1553 617 M1486 511L1573 461 M1423 553L1547 553 M1507 569L1569 576 M1442 521L1602 504 M1536 522L1649 521 M1521 526L1656 567 M1349 514L1490 523 M1509 555L1579 530 M1520 478L1583 444 M1464 553L1529 567 M1446 548L1511 564 M1468 516L1635 584 M1372 566L1472 568 M1558 471L1647 444 M1396 504L1559 516 M1432 526L1497 511 M1516 565L1672 518 M1351 492L1474 473 M1448 521L1576 500 M1384 558L1554 570 M1409 476L1532 462 M1411 532L1498 565 M1496 502L1652 520 M1546 520L1647 571 M1435 476L1552 405 M1356 565L1477 515 M1463 571L1620 571 M1488 544L1578 511 M1372 562L1531 503 M1361 481L1492 562 M1485 516L1565 559 M1374 545L1439 561 M1524 475L1614 444 M1410 534L1526 482 M1411 570L1558 504 M1556 558L1646 500 M1481 512L1568 517 M1442 480L1589 468 M1365 545L1508 474 M1559 572L1732 577 M1417 502L1567 501 M1360 572L1467 623 M1459 536L1523 506 M1536 500L1689 447 M1347 572L1458 643 M1548 508L1666 435 M1439 507L1525 533 M1513 490L1596 442 M1361 532L1480 575 M1442 536L1506 537 M1482 481L1558 488" stroke="#6b9af0" stroke-width="1.3" fill="none"/></g>
<g clip-path="url(#frontslab)"><rect x="1355" y="573" width="251" height="23" fill="#c9cfe6"/><path d="M1427 580L1497 577 M1575 575L1625 577 M1455 594L1494 591 M1360 595L1420 595 M1452 573L1491 574 M1425 584L1467 583 M1363 576L1407 579 M1562 584L1592 588 M1536 584L1600 585 M1525 576L1564 575 M1432 571L1493 569 M1352 595L1417 593 M1534 587L1606 583 M1486 577L1575 573 M1510 587L1589 586 M1450 593L1535 589 M1437 596L1492 593 M1521 577L1592 574 M1366 580L1408 577 M1584 579L1674 582 M1459 583L1536 587 M1495 591L1537 592 M1535 594L1570 595 M1372 580L1460 581 M1365 591L1445 594 M1524 595L1604 598 M1443 587L1523 589 M1408 594L1495 595 M1360 596L1448 599 M1548 577L1592 575 M1392 583L1451 586 M1515 589L1568 591 M1508 592L1594 595 M1353 581L1422 584 M1485 580L1565 582 M1457 570L1488 567 M1439 593L1505 592 M1386 579L1437 582 M1406 587L1441 586 M1445 590L1515 592 M1508 573L1540 576 M1401 575L1488 574 M1561 576L1628 579 M1460 581L1547 581 M1379 598L1459 595 M1330 585L1371 588 M1540 583L1585 582 M1474 573L1555 573 M1571 581L1655 582 M1492 572L1549 576 M1502 580L1570 579 M1506 585L1590 585 M1584 580L1617 583 M1475 589L1532 591 M1520 595L1594 591 M1366 579L1453 582 M1483 574L1547 570 M1524 581L1593 579 M1406 591L1468 591 M1499 597L1577 599 M1580 581L1653 582 M1372 578L1437 580 M1420 592L1459 592 M1372 595L1446 592 M1344 579L1392 578 M1580 597L1621 596 M1381 596L1431 596 M1398 573L1451 572 M1399 597L1442 600 M1548 583L1616 585 M1370 579L1445 579 M1504 586L1580 584 M1569 580L1630 578 M1398 588L1474 584 M1477 593L1529 597 M1393 577L1427 578 M1506 591L1561 594 M1410 573L1478 577 M1510 588L1586 587 M1523 596L1574 595 M1421 593L1462 596 M1466 585L1536 588 M1418 574L1452 573 M1552 584L1622 585 M1479 581L1526 584 M1548 592L1587 593 M1460 591L1544 594 M1543 591L1612 594 M1513 574L1585 575 M1348 578L1414 580 M1385 578L1429 574 M1583 589L1662 588 M1349 590L1429 588 M1494 570L1532 568 M1446 572L1509 574 M1545 571L1582 569 M1418 588L1468 588 M1536 576L1579 579 M1470 593L1501 595 M1461 571L1517 567 M1518 588L1583 587 M1483 584L1527 587 M1539 598L1627 597 M1349 598L1407 595 M1507 583L1580 582 M1379 580L1434 578 M1521 575L1582 575 M1513 576L1555 574 M1512 586L1601 588 M1569 597L1643 598 M1383 572L1414 575 M1494 590L1540 589 M1494 575L1584 573 M1376 571L1427 574 M1448 593L1484 589 M1532 574L1590 578 M1537 596L1595 598 M1358 574L1422 574 M1396 576L1427 579 M1576 590L1665 589 M1430 591L1509 593 M1333 574L1376 574 M1332 581L1412 583 M1341 583L1425 583 M1414 572L1482 575 M1496 584L1539 582 M1429 595L1466 596 M1382 574L1439 574 M1514 588L1570 584 M1344 590L1402 589 M1516 589L1560 590 M1453 589L1491 593 M1346 587L1391 591 M1432 576L1509 579 M1523 588L1555 584 M1539 597L1571 594 M1572 577L1615 578 M1496 596L1581 594 M1335 574L1410 571 M1515 597L1556 600 M1463 575L1500 577 M1568 595L1598 598 M1544 586L1604 587 M1538 587L1573 583 M1406 585L1459 581 M1336 591L1416 593 M1362 583L1431 580 M1359 582L1447 582 M1354 580L1428 583 M1356 594L1408 592" stroke="#2a3a86" stroke-width="2" fill="none"/></g>
<path d="M1378.5 475.4 L1572 475.4 L1606 573 L1606 595 L1355.4 595 L1355.4 573 Z M1355.4 573 H1606" stroke="#263560" stroke-width="1.2" stroke-dasharray="2.5 1.8" fill="none"/>
<circle cx="1423.8" cy="490.5" r="5" fill="url(#dot)"/>
<circle cx="1556.3" cy="489.2" r="5" fill="url(#dot)"/>
<circle cx="1474.3" cy="499.9" r="5" fill="url(#dot)"/>
<circle cx="1511.8" cy="496.6" r="5" fill="url(#dot)"/>
<circle cx="1396.3" cy="514.6" r="5" fill="url(#dot)"/>
<circle cx="1444.2" cy="520.7" r="5" fill="url(#dot)"/>
<circle cx="1495.8" cy="525.0" r="5" fill="url(#dot)"/>
<circle cx="1557.7" cy="526.7" r="5" fill="url(#dot)"/>
<circle cx="1396.3" cy="551.5" r="5" fill="url(#dot)"/>
<circle cx="1450.6" cy="553.1" r="5" fill="url(#dot)"/>
<circle cx="1515.2" cy="548.1" r="5" fill="url(#dot)"/>
<circle cx="1562.7" cy="556.5" r="5" fill="url(#dot)"/>
<rect x="691.4" y="716.4" width="64.9" height="15.5" fill="#9bbdf0"/>
<rect x="691.7" y="717.7" width="62.6" height="12" fill="#4a7ac3"/>
<rect x="776" y="716.4" width="65.5" height="15.5" fill="#9bbdf0"/>
<rect x="776.3" y="717.7" width="63.2" height="12" fill="#4a7ac3"/>
<rect x="863.3" y="716.4" width="64.3" height="15.5" fill="#9bbdf0"/>
<rect x="863.6" y="717.7" width="62.0" height="12" fill="#4a7ac3"/>
<rect x="691.4" y="750.7" width="64.9" height="15.5" fill="#9bbdf0"/>
<rect x="691.7" y="752.0" width="62.6" height="12" fill="#4a7ac3"/>
<rect x="776" y="750.7" width="65.5" height="15.5" fill="#9bbdf0"/>
<rect x="776.3" y="752.0" width="63.2" height="12" fill="#4a7ac3"/>
<rect x="863.3" y="750.7" width="64.3" height="15.5" fill="#9bbdf0"/>
<rect x="863.6" y="752.0" width="62.0" height="12" fill="#4a7ac3"/>
<rect x="691.4" y="785.1" width="64.9" height="15.5" fill="#9bbdf0"/>
<rect x="691.7" y="786.4" width="62.6" height="12" fill="#4a7ac3"/>
<rect x="776" y="785.1" width="65.5" height="15.5" fill="#9bbdf0"/>
<rect x="776.3" y="786.4" width="63.2" height="12" fill="#4a7ac3"/>
<rect x="863.3" y="785.1" width="64.3" height="15.5" fill="#9bbdf0"/>
<rect x="863.6" y="786.4" width="62.0" height="12" fill="#4a7ac3"/>
<rect x="691.4" y="818.6" width="64.9" height="15.5" fill="#9bbdf0"/>
<rect x="691.7" y="819.9" width="62.6" height="12" fill="#4a7ac3"/>
<rect x="776" y="818.6" width="65.5" height="15.5" fill="#9bbdf0"/>
<rect x="776.3" y="819.9" width="63.2" height="12" fill="#4a7ac3"/>
<rect x="863.3" y="818.6" width="64.3" height="15.5" fill="#9bbdf0"/>
<rect x="863.6" y="819.9" width="62.0" height="12" fill="#4a7ac3"/>
<path d="M765.3 695.4 V826" stroke="#5db3c6" stroke-width="1.6"/>
<path d="M760.3 815 L765.3 829 L770.3 815 L765.3 819Z" fill="#5db3c6"/>
<path d="M850.5 695.4 V826" stroke="#5db3c6" stroke-width="1.6"/>
<path d="M845.5 815 L850.5 829 L855.5 815 L850.5 819Z" fill="#5db3c6"/>
<circle cx="710.2" cy="698.7" r="6.5" fill="url(#dot)"/>
<circle cx="751.8" cy="701.7" r="6.5" fill="url(#dot)"/>
<circle cx="794.6" cy="699.3" r="6.5" fill="url(#dot)"/>
<circle cx="834.0" cy="706.8" r="6.5" fill="url(#dot)"/>
<circle cx="892.7" cy="705.9" r="6.5" fill="url(#dot)"/>
<circle cx="859.8" cy="739.7" r="6.5" fill="url(#dot)"/>
<circle cx="778.7" cy="763.6" r="6.5" fill="url(#dot)"/>
<circle cx="899.2" cy="773.8" r="6.5" fill="url(#dot)"/>
<circle cx="756.3" cy="794.7" r="6.5" fill="url(#dot)"/>
<circle cx="843.3" cy="793.8" r="6.5" fill="url(#dot)"/>
<circle cx="772.1" cy="845.0" r="6.5" fill="url(#dot)"/>
<circle cx="870.2" cy="846.4" r="6.5" fill="url(#dot)"/>
<rect x="1026.4" y="762.2" width="27.8" height="12" fill="#7de3c6"/>
<rect x="1027.4" y="763.4" width="25.8" height="9.6" fill="#1ebc95"/>
<rect x="1060.9" y="762.2" width="27.8" height="12" fill="#7de3c6"/>
<rect x="1061.9" y="763.4" width="25.8" height="9.6" fill="#1ebc95"/>
<rect x="1095.3" y="762.2" width="27.8" height="12" fill="#7de3c6"/>
<rect x="1096.3" y="763.4" width="25.8" height="9.6" fill="#1ebc95"/>
<rect x="1129.8" y="762.2" width="27.8" height="12" fill="#7de3c6"/>
<rect x="1130.8" y="763.4" width="25.8" height="9.6" fill="#1ebc95"/>
<rect x="1164.2" y="762.2" width="27.8" height="12" fill="#7de3c6"/>
<rect x="1165.2" y="763.4" width="25.8" height="9.6" fill="#1ebc95"/>
<rect x="1198.7" y="762.2" width="27.8" height="12" fill="#7de3c6"/>
<rect x="1199.7" y="763.4" width="25.8" height="9.6" fill="#1ebc95"/>
<rect x="1233.1" y="762.2" width="27.8" height="12" fill="#7de3c6"/>
<rect x="1234.1" y="763.4" width="25.8" height="9.6" fill="#1ebc95"/>
<rect x="1026.4" y="785.1" width="27.8" height="12" fill="#7de3c6"/>
<rect x="1027.4" y="786.3" width="25.8" height="9.6" fill="#1ebc95"/>
<rect x="1060.9" y="785.1" width="27.8" height="12" fill="#7de3c6"/>
<rect x="1061.9" y="786.3" width="25.8" height="9.6" fill="#1ebc95"/>
<rect x="1095.3" y="785.1" width="27.8" height="12" fill="#7de3c6"/>
<rect x="1096.3" y="786.3" width="25.8" height="9.6" fill="#1ebc95"/>
<rect x="1129.8" y="785.1" width="27.8" height="12" fill="#7de3c6"/>
<rect x="1130.8" y="786.3" width="25.8" height="9.6" fill="#1ebc95"/>
<rect x="1164.2" y="785.1" width="27.8" height="12" fill="#7de3c6"/>
<rect x="1165.2" y="786.3" width="25.8" height="9.6" fill="#1ebc95"/>
<rect x="1198.7" y="785.1" width="27.8" height="12" fill="#7de3c6"/>
<rect x="1199.7" y="786.3" width="25.8" height="9.6" fill="#1ebc95"/>
<rect x="1233.1" y="785.1" width="27.8" height="12" fill="#7de3c6"/>
<rect x="1234.1" y="786.3" width="25.8" height="9.6" fill="#1ebc95"/>
<path d="M1093 690.3 C1092.5 710 1092 725 1091.5 735 Q1090 740 1083 737 L1077 734" stroke="#5db3c6" stroke-width="1.6" fill="none"/>
<path d="M1073 731 L1083 730 L1080 734 L1082 739Z" fill="#5db3c6"/>
<path d="M1190.2 690.3 C1190.7 710 1191.2 725 1191.7 735 Q1193 740 1200 737 L1206 734" stroke="#5db3c6" stroke-width="1.6" fill="none"/>
<path d="M1211 731 L1201 730 L1204 734 L1202 739Z" fill="#5db3c6"/>
<circle cx="1053.9" cy="715.5" r="6.5" fill="url(#dot)"/>
<circle cx="1117.9" cy="718.7" r="6.5" fill="url(#dot)"/>
<circle cx="1167.5" cy="704.4" r="6.5" fill="url(#dot)"/>
<circle cx="1155.2" cy="728.9" r="6.5" fill="url(#dot)"/>
<circle cx="1218.6" cy="711.9" r="6.5" fill="url(#dot)"/>
<circle cx="1252.4" cy="732.2" r="6.5" fill="url(#dot)"/>
<circle cx="1057.2" cy="754.6" r="6.5" fill="url(#dot)"/>
<circle cx="1091.0" cy="753.1" r="6.5" fill="url(#dot)"/>
<circle cx="1125.9" cy="754.6" r="6.5" fill="url(#dot)"/>
<circle cx="1160.6" cy="755.2" r="6.5" fill="url(#dot)"/>
<circle cx="1195.3" cy="754.6" r="6.5" fill="url(#dot)"/>
<circle cx="1229.4" cy="757.3" r="6.5" fill="url(#dot)"/>
<g fill="#3d6fc8"><rect x="1359.2" y="744.2" width="8.0" height="11"/><rect x="1368.3" y="744.2" width="2.5" height="11"/><rect x="1371.9" y="744.2" width="3.3" height="11"/><rect x="1392.0" y="744.2" width="3.0" height="11"/><rect x="1395.9" y="744.2" width="2.0" height="11"/><rect x="1398.8" y="744.2" width="0.9" height="11"/><rect x="1407.3" y="744.2" width="1.5" height="11"/><rect x="1417.2" y="744.2" width="6.0" height="11"/><rect x="1424.6" y="744.2" width="2.5" height="11"/><rect x="1444.7" y="744.2" width="4.0" height="11"/><rect x="1449.8" y="744.2" width="4.0" height="11"/><rect x="1455.2" y="744.2" width="3.3" height="11"/><rect x="1476.8" y="744.2" width="2.5" height="11"/><rect x="1480.7" y="744.2" width="7.6" height="11"/><rect x="1507.4" y="744.2" width="2.0" height="11"/><rect x="1510.3" y="744.2" width="6.0" height="11"/><rect x="1517.7" y="744.2" width="2.0" height="11"/><rect x="1521.1" y="744.2" width="2.3" height="11"/><rect x="1539.5" y="744.2" width="8.0" height="11"/><rect x="1548.6" y="744.2" width="1.6" height="11"/><rect x="1573.9" y="744.2" width="2.5" height="11"/><rect x="1577.8" y="744.2" width="3.0" height="11"/><rect x="1581.9" y="744.2" width="3.0" height="11"/><rect x="1586.3" y="744.2" width="2.5" height="11"/><rect x="1589.9" y="744.2" width="3.8" height="11"/></g>
<g fill="#3d6fc8"><rect x="1359.2" y="765.6" width="8.0" height="11"/><rect x="1368.3" y="765.6" width="2.0" height="11"/><rect x="1371.4" y="765.6" width="4.0" height="11"/><rect x="1376.3" y="765.6" width="2.5" height="11"/><rect x="1379.9" y="765.6" width="2.5" height="11"/><rect x="1383.8" y="765.6" width="6.0" height="11"/><rect x="1390.9" y="765.6" width="8.0" height="11"/><rect x="1400.3" y="765.6" width="4.7" height="11"/><rect x="1422.6" y="765.6" width="3.0" height="11"/><rect x="1426.5" y="765.6" width="2.0" height="11"/><rect x="1429.6" y="765.6" width="5.0" height="11"/><rect x="1435.5" y="765.6" width="3.0" height="11"/><rect x="1439.4" y="765.6" width="5.0" height="11"/><rect x="1445.5" y="765.6" width="0.8" height="11"/><rect x="1457.7" y="765.6" width="2.0" height="11"/><rect x="1460.6" y="765.6" width="3.0" height="11"/><rect x="1464.5" y="765.6" width="5.0" height="11"/><rect x="1470.4" y="765.6" width="2.0" height="11"/><rect x="1473.3" y="765.6" width="8.0" height="11"/><rect x="1482.4" y="765.6" width="4.0" height="11"/><rect x="1487.8" y="765.6" width="3.0" height="11"/><rect x="1491.9" y="765.6" width="2.0" height="11"/><rect x="1495.3" y="765.6" width="2.0" height="11"/><rect x="1498.4" y="765.6" width="2.5" height="11"/><rect x="1501.8" y="765.6" width="5.0" height="11"/><rect x="1507.7" y="765.6" width="5.0" height="11"/><rect x="1519.6" y="765.6" width="5.0" height="11"/><rect x="1525.5" y="765.6" width="4.0" height="11"/><rect x="1530.9" y="765.6" width="6.0" height="11"/><rect x="1538.3" y="765.6" width="2.0" height="11"/><rect x="1541.7" y="765.6" width="2.5" height="11"/><rect x="1545.1" y="765.6" width="3.0" height="11"/><rect x="1549.0" y="765.6" width="0.4" height="11"/><rect x="1554.0" y="765.6" width="4.0" height="11"/><rect x="1559.4" y="765.6" width="2.0" height="11"/><rect x="1562.3" y="765.6" width="5.0" height="11"/><rect x="1568.4" y="765.6" width="5.0" height="11"/><rect x="1574.8" y="765.6" width="2.5" height="11"/><rect x="1578.7" y="765.6" width="6.0" height="11"/><rect x="1585.8" y="765.6" width="7.9" height="11"/></g>
<g fill="#3d6fc8"><rect x="1359.9" y="789.2" width="2.5" height="11"/><rect x="1363.5" y="789.2" width="3.0" height="11"/><rect x="1367.4" y="789.2" width="1.7" height="11"/><rect x="1382.9" y="789.2" width="8.0" height="11"/><rect x="1391.8" y="789.2" width="6.0" height="11"/><rect x="1398.9" y="789.2" width="5.0" height="11"/><rect x="1405.3" y="789.2" width="6.0" height="11"/><rect x="1412.7" y="789.2" width="0.7" height="11"/><rect x="1417.2" y="789.2" width="6.0" height="11"/><rect x="1424.1" y="789.2" width="5.0" height="11"/><rect x="1430.0" y="789.2" width="6.0" height="11"/><rect x="1437.1" y="789.2" width="3.0" height="11"/><rect x="1444.7" y="789.2" width="2.0" height="11"/><rect x="1448.1" y="789.2" width="2.0" height="11"/><rect x="1451.5" y="789.2" width="2.0" height="11"/><rect x="1454.4" y="789.2" width="3.0" height="11"/><rect x="1458.3" y="789.2" width="2.5" height="11"/><rect x="1462.2" y="789.2" width="2.0" height="11"/><rect x="1465.6" y="789.2" width="4.0" height="11"/><rect x="1471.0" y="789.2" width="4.3" height="11"/><rect x="1489.8" y="789.2" width="3.0" height="11"/><rect x="1493.9" y="789.2" width="2.5" height="11"/><rect x="1497.3" y="789.2" width="3.0" height="11"/><rect x="1501.4" y="789.2" width="4.0" height="11"/><rect x="1506.5" y="789.2" width="6.0" height="11"/><rect x="1513.9" y="789.2" width="2.5" height="11"/><rect x="1517.5" y="789.2" width="0.6" height="11"/><rect x="1531.1" y="789.2" width="8.0" height="11"/><rect x="1540.2" y="789.2" width="3.0" height="11"/><rect x="1544.3" y="789.2" width="4.4" height="11"/><rect x="1554.0" y="789.2" width="2.0" height="11"/><rect x="1557.1" y="789.2" width="8.0" height="11"/><rect x="1566.0" y="789.2" width="2.0" height="11"/><rect x="1568.9" y="789.2" width="8.0" height="11"/><rect x="1578.0" y="789.2" width="0.5" height="11"/><rect x="1588.4" y="789.2" width="3.0" height="11"/><rect x="1592.8" y="789.2" width="0.9" height="11"/></g>
<g fill="#3d6fc8"><rect x="1359.2" y="811.4" width="2.0" height="11"/><rect x="1362.1" y="811.4" width="2.5" height="11"/><rect x="1366.0" y="811.4" width="6.0" height="11"/><rect x="1373.4" y="811.4" width="3.0" height="11"/><rect x="1377.8" y="811.4" width="3.0" height="11"/><rect x="1381.7" y="811.4" width="2.0" height="11"/><rect x="1384.6" y="811.4" width="4.0" height="11"/><rect x="1389.5" y="811.4" width="8.0" height="11"/><rect x="1398.4" y="811.4" width="4.0" height="11"/><rect x="1417.2" y="811.4" width="6.0" height="11"/><rect x="1424.1" y="811.4" width="5.0" height="11"/><rect x="1444.0" y="811.4" width="2.5" height="11"/><rect x="1447.4" y="811.4" width="2.0" height="11"/><rect x="1450.5" y="811.4" width="2.0" height="11"/><rect x="1453.6" y="811.4" width="3.4" height="11"/><rect x="1470.7" y="811.4" width="3.0" height="11"/><rect x="1474.8" y="811.4" width="5.0" height="11"/><rect x="1481.2" y="811.4" width="2.5" height="11"/><rect x="1484.6" y="811.4" width="3.0" height="11"/><rect x="1489.0" y="811.4" width="3.0" height="11"/><rect x="1493.1" y="811.4" width="1.3" height="11"/><rect x="1508.9" y="811.4" width="5.0" height="11"/><rect x="1515.3" y="811.4" width="2.0" height="11"/><rect x="1518.2" y="811.4" width="8.0" height="11"/><rect x="1527.1" y="811.4" width="3.0" height="11"/><rect x="1531.2" y="811.4" width="8.0" height="11"/><rect x="1540.1" y="811.4" width="2.5" height="11"/><rect x="1544.0" y="811.4" width="2.5" height="11"/><rect x="1547.4" y="811.4" width="5.8" height="11"/><rect x="1566.2" y="811.4" width="8.0" height="11"/><rect x="1575.3" y="811.4" width="2.5" height="11"/><rect x="1579.2" y="811.4" width="4.0" height="11"/><rect x="1584.3" y="811.4" width="8.0" height="11"/><rect x="1593.2" y="811.4" width="0.5" height="11"/></g>
<path d="M1411.8 703.8 V836" stroke="#5db3c6" stroke-width="1.6"/>
<path d="M1406.8 825 L1411.8 839 L1416.8 825 L1411.8 829Z" fill="#5db3c6"/>
<path d="M1553.1 703.8 V836" stroke="#5db3c6" stroke-width="1.6"/>
<path d="M1548.1 825 L1553.1 839 L1558.1 825 L1553.1 829Z" fill="#5db3c6"/>
<circle cx="1402.7" cy="705.9" r="6.5" fill="url(#dot)"/>
<circle cx="1383.6" cy="725.9" r="6.5" fill="url(#dot)"/>
<circle cx="1422.8" cy="731.6" r="6.5" fill="url(#dot)"/>
<circle cx="1463.1" cy="715.5" r="6.5" fill="url(#dot)"/>
<circle cx="1509.8" cy="711.9" r="6.5" fill="url(#dot)"/>
<circle cx="1538.8" cy="735.2" r="6.5" fill="url(#dot)"/>
<circle cx="1438.0" cy="749.8" r="6.5" fill="url(#dot)"/>
<circle cx="1386.3" cy="758.8" r="6.5" fill="url(#dot)"/>
<circle cx="1467.6" cy="758.8" r="6.5" fill="url(#dot)"/>
<circle cx="1499.3" cy="761.2" r="6.5" fill="url(#dot)"/>
<circle cx="1528.3" cy="759.7" r="6.5" fill="url(#dot)"/>
<circle cx="1564.2" cy="749.8" r="6.5" fill="url(#dot)"/>
<text x="451" y="314.5" style="font-size:27px;stroke:#fff;stroke-width:0.25" textLength="41.5" lengthAdjust="spacingAndGlyphs">Silt</text>
<text x="687.8" y="314.5" style="font-size:27px;stroke:#fff;stroke-width:0.25" textLength="241.5" lengthAdjust="spacingAndGlyphs">Industrial emission</text>
<text x="1035" y="314.5" style="font-size:27px;stroke:#fff;stroke-width:0.25" textLength="227.4" lengthAdjust="spacingAndGlyphs">Experiment waste</text>
<text x="1362.6" y="314.5" style="font-size:27px;stroke:#fff;stroke-width:0.25" textLength="245.4" lengthAdjust="spacingAndGlyphs">Micro/nanoplastics</text>
<text x="207.7" y="448.3" style="font-size:27px;stroke:#fff;stroke-width:0.25" textLength="69.7" lengthAdjust="spacingAndGlyphs">Press</text>
<text x="347.5" y="521.6" style="font-size:26px;stroke:#fff;stroke-width:0.25" textLength="236.3" lengthAdjust="spacingAndGlyphs">Three dimensional</text>
<text x="285.9" y="553.4" style="font-size:26px;stroke:#fff;stroke-width:0.25" textLength="357.8" lengthAdjust="spacingAndGlyphs">nanocellulose hydrogel film</text>
<text x="309.5" y="737.4" style="font-size:26px;stroke:#fff;stroke-width:0.25" textLength="308.8" lengthAdjust="spacingAndGlyphs">Microporous membrane</text>
<text x="414.4" y="769.5" style="font-size:26px;stroke:#fff;stroke-width:0.25" textLength="99.8" lengthAdjust="spacingAndGlyphs">support</text>
<text x="38.6" y="928" style="font-size:26px;stroke:#fff;stroke-width:0.25" textLength="181.4" lengthAdjust="spacingAndGlyphs">Ultrafine particle</text>
<text x="329.9" y="930" style="font-size:26px;stroke:#fff;stroke-width:0.25" textLength="155.5" lengthAdjust="spacingAndGlyphs">Nanocellulose</text>
<text x="573.7" y="930" style="font-size:26px;stroke:#fff;stroke-width:0.25" textLength="63.7" lengthAdjust="spacingAndGlyphs">Water</text>
<text x="772.6" y="399.3" style="font-size:27px;stroke:#fff;stroke-width:0.25" textLength="68.9" lengthAdjust="spacingAndGlyphs">Press</text>
<text x="1108" y="399.3" style="font-size:27px;stroke:#fff;stroke-width:0.25" textLength="69.8" lengthAdjust="spacingAndGlyphs">Press</text>
<text x="1450.2" y="399.3" style="font-size:27px;stroke:#fff;stroke-width:0.25" textLength="69.7" lengthAdjust="spacingAndGlyphs">Press</text>
<text x="729.2" y="896" style="font-size:27px;stroke:#fff;stroke-width:0.25" textLength="158.7" lengthAdjust="spacingAndGlyphs">Commercial</text>
<text x="737.8" y="928.3" style="font-size:27px;stroke:#fff;stroke-width:0.25" textLength="140.5" lengthAdjust="spacingAndGlyphs">filter paper</text>
<text x="1020.9" y="896" style="font-size:27px;stroke:#fff;stroke-width:0.25" textLength="272.1" lengthAdjust="spacingAndGlyphs">Ultrathin nanoporous</text>
<text x="1086.7" y="928.7" style="font-size:27px;stroke:#fff;stroke-width:0.25" textLength="140.5" lengthAdjust="spacingAndGlyphs">membrane</text>
<text x="1404.2" y="896" style="font-size:27px;stroke:#fff;stroke-width:0.25" textLength="184.9" lengthAdjust="spacingAndGlyphs">Nanocellulose</text>
<text x="1410.7" y="928.3" style="font-size:27px;stroke:#fff;stroke-width:0.25" textLength="173.5" lengthAdjust="spacingAndGlyphs">hydrogel film</text>
</svg>
</body></html>
